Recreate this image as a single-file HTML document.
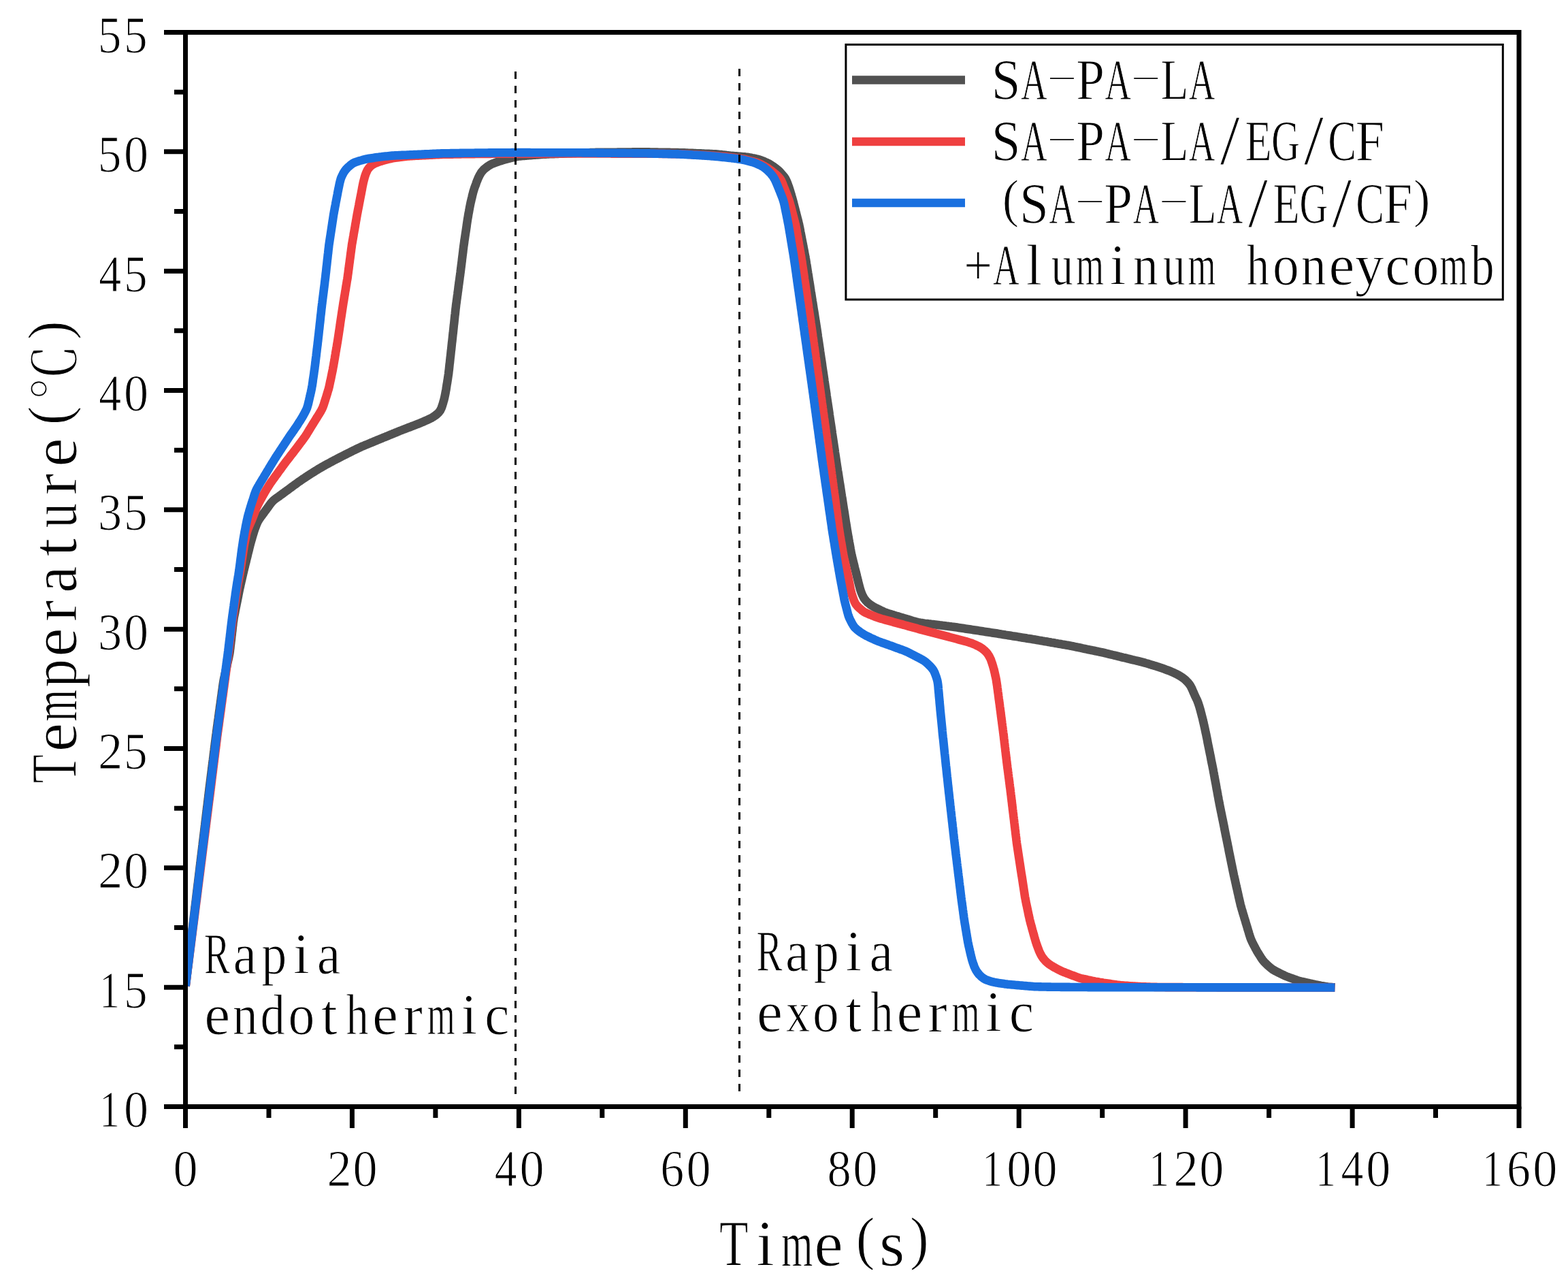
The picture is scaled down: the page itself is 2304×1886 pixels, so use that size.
<!DOCTYPE html>
<html><head><meta charset="utf-8"><title>Temperature vs Time</title>
<style>html,body{margin:0;padding:0;background:#fff;}svg{display:block;}</style>
</head><body>
<svg xmlns="http://www.w3.org/2000/svg" width="2304" height="1886" viewBox="0 0 2304 1886">
<defs><clipPath id="pc"><rect x="272" y="47.5" width="1960" height="1578"/></clipPath></defs>
<rect width="2304" height="1886" fill="#fff"/>
<g clip-path="url(#pc)" fill="none" stroke-width="12.6" stroke-linejoin="round" stroke-linecap="butt">
<path stroke="#515151" d="M272.7,1448.4 L272.8,1447.2 L273.0,1445.7 L273.2,1443.9 L273.5,1442.0 L273.7,1440.1 L273.9,1438.1 L274.2,1436.1 L274.4,1434.1 L274.6,1432.1 L274.9,1430.1 L275.1,1428.2 L275.4,1426.2 L275.6,1424.2 L275.8,1422.2 L276.1,1420.2 L276.3,1418.2 L276.6,1416.2 L276.8,1414.2 L277.0,1412.3 L277.3,1410.3 L277.5,1408.3 L277.7,1406.3 L278.0,1404.3 L278.2,1402.3 L278.5,1400.3 L278.7,1398.4 L278.9,1396.4 L279.2,1394.4 L279.4,1392.4 L279.7,1390.4 L279.9,1388.4 L280.1,1386.4 L280.4,1384.5 L280.6,1382.5 L280.8,1380.5 L281.1,1378.5 L281.3,1376.5 L281.6,1374.5 L281.8,1372.5 L282.0,1370.6 L282.3,1368.6 L282.5,1366.6 L282.7,1364.6 L283.0,1362.6 L283.2,1360.6 L283.5,1358.6 L283.7,1356.6 L283.9,1354.7 L284.2,1352.7 L284.4,1350.7 L284.7,1348.7 L284.9,1346.7 L285.1,1344.7 L285.4,1342.7 L285.6,1340.8 L285.8,1338.8 L286.1,1336.8 L286.3,1334.8 L286.6,1332.8 L286.8,1330.8 L287.0,1328.8 L287.3,1326.9 L287.5,1324.9 L287.8,1322.9 L288.0,1320.9 L288.2,1318.9 L288.5,1316.9 L288.7,1314.9 L288.9,1313.0 L289.2,1311.0 L289.4,1309.0 L289.7,1307.0 L289.9,1305.0 L290.1,1303.0 L290.4,1301.0 L290.6,1299.0 L290.9,1297.1 L291.1,1295.1 L291.3,1293.1 L291.6,1291.1 L291.8,1289.1 L292.1,1287.1 L292.3,1285.1 L292.5,1283.2 L292.8,1281.2 L293.0,1279.2 L293.3,1277.2 L293.5,1275.2 L293.7,1273.2 L294.0,1271.2 L294.2,1269.3 L294.5,1267.3 L294.7,1265.3 L294.9,1263.3 L295.2,1261.3 L295.4,1259.3 L295.7,1257.3 L295.9,1255.4 L296.1,1253.4 L296.4,1251.4 L296.6,1249.4 L296.9,1247.4 L297.1,1245.4 L297.3,1243.4 L297.6,1241.5 L297.8,1239.5 L298.0,1237.5 L298.3,1235.5 L298.5,1233.5 L298.8,1231.5 L299.0,1229.5 L299.2,1227.6 L299.5,1225.6 L299.7,1223.6 L300.0,1221.6 L300.2,1219.6 L300.4,1217.6 L300.7,1215.6 L300.9,1213.6 L301.2,1211.7 L301.4,1209.7 L301.6,1207.7 L301.9,1205.7 L302.1,1203.7 L302.4,1201.7 L302.6,1199.7 L302.8,1197.8 L303.1,1195.8 L303.3,1193.8 L303.6,1191.8 L303.8,1189.8 L304.0,1187.8 L304.3,1185.8 L304.5,1183.9 L304.8,1181.9 L305.0,1179.9 L305.2,1177.9 L305.5,1175.9 L305.7,1173.9 L306.0,1171.9 L306.2,1170.0 L306.4,1168.0 L306.7,1166.0 L306.9,1164.0 L307.2,1162.0 L307.4,1160.0 L307.6,1158.0 L307.9,1156.1 L308.1,1154.1 L308.4,1152.1 L308.6,1150.1 L308.9,1148.1 L309.1,1146.1 L309.4,1144.1 L309.6,1142.2 L309.9,1140.2 L310.1,1138.2 L310.4,1136.2 L310.6,1134.2 L310.9,1132.2 L311.1,1130.3 L311.4,1128.3 L311.6,1126.3 L311.9,1124.3 L312.1,1122.3 L312.4,1120.3 L312.6,1118.3 L312.9,1116.4 L313.1,1114.4 L313.4,1112.4 L313.6,1110.4 L313.8,1108.4 L314.1,1106.4 L314.3,1104.4 L314.6,1102.5 L314.8,1100.5 L315.1,1098.5 L315.3,1096.5 L315.6,1094.5 L315.8,1092.5 L316.1,1090.6 L316.3,1088.6 L316.6,1086.6 L316.8,1084.6 L317.1,1082.6 L317.3,1080.6 L317.6,1078.6 L317.9,1076.7 L318.1,1074.7 L318.4,1072.7 L318.7,1070.7 L318.9,1068.7 L319.2,1066.8 L319.5,1064.8 L319.8,1062.8 L320.0,1060.8 L320.3,1058.8 L320.6,1056.8 L320.9,1054.9 L321.1,1052.9 L321.4,1050.9 L321.7,1048.9 L321.9,1046.9 L322.2,1045.0 L322.5,1043.0 L322.8,1041.0 L323.0,1039.0 L323.3,1037.0 L323.6,1035.0 L323.9,1033.1 L324.1,1031.1 L324.4,1029.1 L324.7,1027.1 L324.9,1025.1 L325.2,1023.2 L325.5,1021.2 L325.8,1019.2 L326.0,1017.2 L326.3,1015.2 L326.6,1013.2 L326.9,1011.3 L327.1,1009.3 L327.4,1007.3 L327.7,1005.3 L328.0,1003.3 L328.3,1001.4 L328.6,999.4 L329.0,997.4 L329.4,995.5 L329.9,993.5 L330.3,991.6 L330.7,989.6 L331.2,987.7 L331.6,985.7 L332.1,983.8 L332.5,981.8 L332.9,979.9 L333.4,977.9 L333.8,976.0 L334.2,974.0 L334.7,972.1 L335.1,970.1 L335.6,968.2 L336.0,966.2 L336.4,964.2 L336.8,962.3 L337.2,960.3 L337.5,958.4 L337.8,956.4 L338.0,954.4 L338.3,952.4 L338.5,950.4 L338.7,948.4 L339.0,946.4 L339.2,944.5 L339.4,942.5 L339.7,940.5 L339.9,938.5 L340.1,936.5 L340.3,934.5 L340.6,932.5 L340.8,930.5 L341.0,928.6 L341.3,926.6 L341.5,924.6 L341.7,922.6 L341.9,920.6 L342.2,918.6 L342.4,916.6 L342.6,914.6 L342.9,912.7 L343.2,910.7 L343.5,908.7 L343.8,906.7 L344.2,904.8 L344.6,902.8 L345.0,900.9 L345.4,898.9 L345.7,896.9 L346.1,895.0 L346.5,893.0 L346.9,891.0 L347.3,889.1 L347.7,887.1 L348.1,885.2 L348.5,883.2 L348.9,881.2 L349.3,879.3 L349.7,877.3 L350.1,875.3 L350.4,873.4 L350.8,871.4 L351.2,869.5 L351.6,867.5 L352.0,865.5 L352.4,863.6 L352.9,861.6 L353.3,859.7 L353.7,857.7 L354.2,855.8 L354.6,853.8 L355.1,851.9 L355.5,849.9 L356.0,848.0 L356.4,846.0 L356.9,844.1 L357.3,842.1 L357.8,840.2 L358.2,838.2 L358.7,836.3 L359.2,834.3 L359.7,832.4 L360.1,830.5 L360.6,828.5 L361.1,826.6 L361.6,824.6 L362.0,822.7 L362.5,820.7 L363.0,818.8 L363.5,816.9 L363.9,814.9 L364.4,813.0 L364.9,811.0 L365.4,809.1 L365.9,807.1 L366.3,805.2 L366.8,803.3 L367.3,801.3 L367.8,799.4 L368.3,797.5 L368.9,795.5 L369.4,793.6 L370.0,791.7 L370.5,789.8 L371.1,787.8 L371.6,785.9 L372.2,784.0 L372.8,782.1 L373.4,780.2 L374.0,778.3 L374.7,776.4 L375.4,774.5 L376.1,772.7 L376.8,770.8 L377.6,769.0 L378.4,767.1 L379.3,765.4 L380.3,763.7 L381.4,762.0 L382.5,760.4 L383.7,758.7 L384.9,757.1 L386.1,755.5 L387.3,753.9 L388.5,752.3 L389.6,750.7 L390.8,749.1 L392.0,747.5 L393.2,745.9 L394.4,744.3 L395.5,742.6 L396.7,741.0 L397.9,739.4 L399.2,737.9 L400.5,736.4 L401.9,735.0 L403.4,733.7 L405.0,732.5 L406.6,731.4 L408.2,730.2 L409.9,729.1 L411.5,727.9 L413.1,726.8 L414.7,725.6 L416.3,724.4 L417.9,723.2 L419.6,722.0 L421.2,720.8 L422.8,719.7 L424.4,718.5 L426.0,717.3 L427.6,716.1 L429.2,714.9 L430.8,713.7 L432.4,712.5 L434.1,711.4 L435.7,710.2 L437.3,709.0 L438.9,707.8 L440.6,706.7 L442.2,705.6 L443.9,704.4 L445.5,703.3 L447.2,702.2 L448.8,701.1 L450.5,700.0 L452.2,698.9 L453.9,697.8 L455.5,696.7 L457.2,695.6 L458.9,694.6 L460.6,693.5 L462.3,692.5 L464.0,691.4 L465.7,690.4 L467.4,689.3 L469.1,688.3 L470.9,687.3 L472.6,686.3 L474.3,685.3 L476.1,684.3 L477.8,683.3 L479.6,682.3 L481.3,681.4 L483.1,680.4 L484.8,679.5 L486.6,678.5 L488.4,677.6 L490.1,676.6 L491.9,675.7 L493.7,674.8 L495.4,673.9 L497.2,673.0 L499.0,672.0 L500.8,671.1 L502.6,670.2 L504.3,669.3 L506.1,668.4 L507.9,667.5 L509.7,666.6 L511.5,665.7 L513.3,664.8 L515.1,663.9 L516.9,663.0 L518.6,662.1 L520.4,661.3 L522.2,660.4 L524.0,659.5 L525.8,658.6 L527.7,657.8 L529.5,656.9 L531.3,656.1 L533.1,655.3 L535.0,654.6 L536.8,653.8 L538.7,653.0 L540.5,652.3 L542.4,651.5 L544.2,650.7 L546.1,650.0 L547.9,649.2 L549.8,648.4 L551.6,647.7 L553.5,646.9 L555.3,646.1 L557.2,645.4 L559.0,644.6 L560.9,643.9 L562.7,643.1 L564.6,642.3 L566.4,641.6 L568.3,640.8 L570.1,640.1 L572.0,639.3 L573.8,638.5 L575.7,637.8 L577.5,637.0 L579.4,636.3 L581.2,635.5 L583.1,634.8 L584.9,634.0 L586.8,633.2 L588.6,632.5 L590.5,631.8 L592.4,631.0 L594.2,630.3 L596.1,629.6 L598.0,628.9 L599.8,628.2 L601.7,627.5 L603.6,626.8 L605.4,626.0 L607.3,625.3 L609.2,624.6 L611.0,623.9 L612.9,623.2 L614.8,622.5 L616.6,621.7 L618.5,620.9 L620.3,620.2 L622.2,619.4 L624.0,618.6 L625.8,617.7 L627.6,616.9 L629.5,616.1 L631.3,615.2 L633.0,614.4 L634.8,613.4 L636.5,612.4 L638.2,611.3 L639.8,610.1 L641.4,608.9 L642.9,607.6 L644.3,606.2 L645.5,604.8 L646.7,603.2 L647.6,601.5 L648.5,599.7 L649.2,597.9 L649.8,596.0 L650.4,594.1 L651.0,592.2 L651.5,590.2 L652.1,588.3 L652.6,586.4 L653.1,584.4 L653.5,582.5 L653.9,580.5 L654.3,578.6 L654.7,576.6 L655.0,574.6 L655.4,572.7 L655.7,570.7 L656.0,568.7 L656.3,566.7 L656.6,564.8 L657.0,562.8 L657.3,560.8 L657.6,558.8 L657.9,556.9 L658.2,554.9 L658.5,552.9 L658.8,550.9 L659.1,549.0 L659.3,547.0 L659.5,545.0 L659.8,543.0 L660.0,541.0 L660.2,539.0 L660.4,537.0 L660.6,535.0 L660.9,533.1 L661.1,531.1 L661.3,529.1 L661.5,527.1 L661.7,525.1 L662.0,523.1 L662.2,521.1 L662.4,519.1 L662.6,517.1 L662.8,515.2 L663.1,513.2 L663.3,511.2 L663.5,509.2 L663.7,507.2 L663.9,505.2 L664.1,503.2 L664.4,501.2 L664.6,499.2 L664.8,497.3 L665.0,495.3 L665.2,493.3 L665.4,491.3 L665.7,489.3 L665.9,487.3 L666.1,485.3 L666.3,483.3 L666.5,481.3 L666.7,479.4 L666.9,477.4 L667.2,475.4 L667.4,473.4 L667.6,471.4 L667.8,469.4 L668.0,467.4 L668.2,465.4 L668.4,463.4 L668.7,461.5 L668.9,459.5 L669.1,457.5 L669.3,455.5 L669.5,453.5 L669.8,451.5 L670.0,449.5 L670.2,447.5 L670.5,445.6 L670.8,443.6 L671.0,441.6 L671.3,439.6 L671.6,437.6 L671.8,435.6 L672.1,433.7 L672.4,431.7 L672.6,429.7 L672.9,427.7 L673.2,425.7 L673.4,423.8 L673.7,421.8 L673.9,419.8 L674.2,417.8 L674.5,415.8 L674.7,413.8 L675.0,411.9 L675.3,409.9 L675.5,407.9 L675.8,405.9 L676.1,403.9 L676.3,401.9 L676.6,400.0 L676.8,398.0 L677.1,396.0 L677.3,394.0 L677.6,392.0 L677.8,390.0 L678.1,388.0 L678.3,386.1 L678.6,384.1 L678.8,382.1 L679.0,380.1 L679.3,378.1 L679.5,376.1 L679.8,374.1 L680.0,372.2 L680.3,370.2 L680.5,368.2 L680.7,366.2 L681.0,364.2 L681.2,362.2 L681.5,360.3 L681.8,358.3 L682.1,356.3 L682.3,354.3 L682.6,352.3 L682.9,350.4 L683.2,348.4 L683.5,346.4 L683.8,344.4 L684.1,342.4 L684.4,340.5 L684.7,338.5 L685.0,336.5 L685.3,334.5 L685.6,332.5 L685.8,330.6 L686.1,328.6 L686.4,326.6 L686.7,324.6 L687.0,322.6 L687.3,320.7 L687.7,318.7 L688.0,316.7 L688.3,314.8 L688.7,312.8 L689.1,310.8 L689.4,308.8 L689.8,306.9 L690.1,304.9 L690.5,302.9 L690.9,301.0 L691.3,299.0 L691.7,297.1 L692.2,295.1 L692.6,293.2 L693.1,291.2 L693.6,289.3 L694.0,287.3 L694.5,285.4 L695.0,283.5 L695.5,281.5 L696.1,279.6 L696.7,277.7 L697.3,275.8 L698.0,273.9 L698.7,272.1 L699.4,270.2 L700.0,268.3 L700.7,266.4 L701.5,264.6 L702.2,262.7 L703.0,260.9 L703.9,259.1 L704.8,257.3 L705.8,255.6 L706.8,253.9 L707.9,252.3 L709.2,250.8 L710.5,249.3 L712.0,248.0 L713.5,246.8 L715.1,245.6 L716.7,244.4 L718.4,243.3 L720.1,242.3 L721.8,241.3 L723.6,240.5 L725.5,239.8 L727.3,239.1 L729.2,238.4 L731.1,237.8 L733.0,237.1 L734.9,236.5 L736.8,235.9 L738.7,235.3 L740.6,234.7 L742.6,234.2 L744.5,233.7 L746.4,233.2 L748.4,232.7 L750.3,232.1 L752.2,231.6 L754.2,231.2 L756.1,230.7 L758.1,230.3 L760.0,229.9 L762.0,229.6 L764.0,229.4 L766.0,229.2 L767.9,229.0 L769.9,228.9 L771.9,228.7 L773.9,228.6 L775.9,228.4 L777.9,228.3 L779.9,228.1 L781.9,228.0 L783.9,227.8 L785.9,227.7 L787.9,227.5 L789.9,227.4 L791.9,227.2 L793.9,227.1 L795.9,226.9 L797.9,226.8 L799.9,226.7 L801.9,226.6 L803.9,226.5 L805.9,226.4 L807.9,226.3 L809.9,226.2 L811.9,226.2 L813.9,226.1 L815.9,226.0 L817.9,225.9 L819.9,225.9 L821.8,225.8 L823.8,225.7 L825.8,225.6 L827.8,225.6 L829.8,225.5 L831.8,225.4 L833.8,225.3 L835.8,225.3 L837.8,225.2 L839.8,225.1 L841.8,225.0 L843.8,225.0 L845.8,224.9 L847.8,224.8 L849.8,224.7 L851.8,224.7 L853.8,224.6 L855.8,224.5 L857.8,224.5 L859.8,224.4 L861.8,224.3 L863.8,224.2 L865.8,224.2 L867.8,224.1 L869.8,224.0 L871.8,224.0 L873.8,224.0 L875.8,223.9 L877.8,223.9 L879.8,223.9 L881.8,223.9 L883.8,223.9 L885.8,223.9 L887.8,223.8 L889.8,223.8 L891.8,223.8 L893.8,223.8 L895.8,223.8 L897.8,223.7 L899.8,223.7 L901.8,223.7 L903.8,223.7 L905.8,223.7 L907.8,223.6 L909.8,223.6 L911.8,223.6 L913.8,223.6 L915.8,223.6 L917.8,223.6 L919.8,223.5 L921.8,223.5 L923.8,223.5 L925.8,223.5 L927.8,223.5 L929.8,223.4 L931.8,223.4 L933.8,223.4 L935.8,223.4 L937.8,223.4 L939.8,223.4 L941.8,223.3 L943.8,223.3 L945.8,223.3 L947.8,223.4 L949.8,223.4 L951.8,223.4 L953.8,223.4 L955.8,223.5 L957.8,223.5 L959.8,223.5 L961.8,223.6 L963.8,223.6 L965.8,223.6 L967.8,223.7 L969.8,223.7 L971.8,223.7 L973.8,223.8 L975.8,223.8 L977.8,223.8 L979.8,223.9 L981.8,223.9 L983.8,223.9 L985.8,224.0 L987.8,224.0 L989.8,224.0 L991.8,224.1 L993.8,224.1 L995.8,224.1 L997.8,224.2 L999.8,224.2 L1001.8,224.3 L1003.8,224.4 L1005.8,224.4 L1007.8,224.5 L1009.8,224.6 L1011.8,224.7 L1013.8,224.8 L1015.8,224.9 L1017.8,224.9 L1019.8,225.0 L1021.8,225.1 L1023.8,225.2 L1025.8,225.3 L1027.8,225.4 L1029.8,225.4 L1031.8,225.5 L1033.8,225.6 L1035.8,225.7 L1037.8,225.8 L1039.8,225.9 L1041.8,225.9 L1043.8,226.0 L1045.8,226.1 L1047.8,226.2 L1049.8,226.3 L1051.8,226.4 L1053.8,226.5 L1055.8,226.7 L1057.8,226.9 L1059.8,227.1 L1061.8,227.4 L1063.7,227.6 L1065.7,227.8 L1067.7,228.1 L1069.7,228.3 L1071.7,228.5 L1073.7,228.7 L1075.7,228.9 L1077.7,229.0 L1079.7,229.2 L1081.7,229.3 L1083.7,229.5 L1085.6,229.7 L1087.6,229.8 L1089.6,230.0 L1091.6,230.2 L1093.6,230.3 L1095.6,230.6 L1097.6,230.8 L1099.6,231.1 L1101.5,231.4 L1103.5,231.8 L1105.5,232.2 L1107.4,232.5 L1109.4,232.9 L1111.3,233.4 L1113.3,233.8 L1115.2,234.3 L1117.1,234.9 L1119.0,235.6 L1120.8,236.3 L1122.7,237.1 L1124.5,237.9 L1126.3,238.7 L1128.1,239.6 L1129.9,240.5 L1131.6,241.5 L1133.3,242.6 L1135.0,243.7 L1136.6,244.8 L1138.2,245.9 L1139.9,247.1 L1141.4,248.3 L1143.0,249.6 L1144.4,250.9 L1145.9,252.3 L1147.2,253.8 L1148.5,255.3 L1149.8,256.8 L1151.1,258.3 L1152.3,259.9 L1153.5,261.5 L1154.5,263.2 L1155.4,265.0 L1156.2,266.8 L1156.9,268.6 L1157.6,270.5 L1158.3,272.4 L1159.0,274.2 L1159.6,276.1 L1160.2,278.0 L1160.8,279.9 L1161.4,281.9 L1162.0,283.8 L1162.6,285.7 L1163.1,287.6 L1163.7,289.5 L1164.2,291.5 L1164.8,293.4 L1165.3,295.3 L1165.8,297.2 L1166.3,299.2 L1166.8,301.1 L1167.3,303.0 L1167.8,305.0 L1168.3,306.9 L1168.8,308.9 L1169.3,310.8 L1169.8,312.7 L1170.3,314.7 L1170.8,316.6 L1171.3,318.6 L1171.8,320.5 L1172.3,322.4 L1172.8,324.4 L1173.2,326.3 L1173.7,328.3 L1174.2,330.2 L1174.6,332.2 L1175.0,334.1 L1175.4,336.1 L1175.8,338.0 L1176.1,340.0 L1176.5,342.0 L1176.9,343.9 L1177.3,345.9 L1177.7,347.9 L1178.0,349.8 L1178.4,351.8 L1178.8,353.8 L1179.2,355.7 L1179.6,357.7 L1180.0,359.6 L1180.3,361.6 L1180.7,363.6 L1181.1,365.5 L1181.5,367.5 L1181.9,369.5 L1182.2,371.4 L1182.6,373.4 L1183.0,375.4 L1183.4,377.3 L1183.7,379.3 L1184.1,381.3 L1184.4,383.2 L1184.7,385.2 L1185.0,387.2 L1185.4,389.2 L1185.7,391.1 L1186.0,393.1 L1186.3,395.1 L1186.6,397.1 L1186.9,399.0 L1187.2,401.0 L1187.6,403.0 L1187.9,405.0 L1188.2,406.9 L1188.5,408.9 L1188.8,410.9 L1189.1,412.9 L1189.4,414.8 L1189.8,416.8 L1190.1,418.8 L1190.4,420.8 L1190.7,422.7 L1191.0,424.7 L1191.3,426.7 L1191.6,428.7 L1192.0,430.6 L1192.3,432.6 L1192.6,434.6 L1192.9,436.6 L1193.2,438.5 L1193.5,440.5 L1193.8,442.5 L1194.2,444.5 L1194.5,446.5 L1194.8,448.4 L1195.1,450.4 L1195.4,452.4 L1195.7,454.4 L1196.0,456.3 L1196.4,458.3 L1196.7,460.3 L1197.0,462.3 L1197.3,464.2 L1197.6,466.2 L1197.9,468.2 L1198.2,470.2 L1198.5,472.1 L1198.9,474.1 L1199.2,476.1 L1199.5,478.1 L1199.8,480.0 L1200.1,482.0 L1200.4,484.0 L1200.7,486.0 L1201.0,488.0 L1201.3,489.9 L1201.6,491.9 L1201.8,493.9 L1202.1,495.9 L1202.4,497.8 L1202.7,499.8 L1203.0,501.8 L1203.3,503.8 L1203.6,505.8 L1203.9,507.7 L1204.2,509.7 L1204.5,511.7 L1204.8,513.7 L1205.0,515.7 L1205.3,517.6 L1205.6,519.6 L1205.9,521.6 L1206.2,523.6 L1206.5,525.6 L1206.8,527.5 L1207.1,529.5 L1207.4,531.5 L1207.7,533.5 L1208.0,535.5 L1208.2,537.4 L1208.5,539.4 L1208.8,541.4 L1209.1,543.4 L1209.4,545.3 L1209.7,547.3 L1210.0,549.3 L1210.3,551.3 L1210.6,553.3 L1210.9,555.2 L1211.2,557.2 L1211.4,559.2 L1211.7,561.2 L1212.0,563.2 L1212.3,565.1 L1212.6,567.1 L1212.9,569.1 L1213.2,571.1 L1213.5,573.1 L1213.8,575.0 L1214.1,577.0 L1214.4,579.0 L1214.6,581.0 L1214.9,583.0 L1215.2,584.9 L1215.5,586.9 L1215.8,588.9 L1216.1,590.9 L1216.4,592.8 L1216.7,594.8 L1217.0,596.8 L1217.3,598.8 L1217.6,600.8 L1217.9,602.7 L1218.2,604.7 L1218.5,606.7 L1218.7,608.7 L1219.0,610.7 L1219.3,612.6 L1219.6,614.6 L1219.9,616.6 L1220.2,618.6 L1220.5,620.6 L1220.8,622.5 L1221.1,624.5 L1221.4,626.5 L1221.7,628.5 L1222.0,630.4 L1222.3,632.4 L1222.6,634.4 L1222.8,636.4 L1223.1,638.4 L1223.4,640.3 L1223.7,642.3 L1224.0,644.3 L1224.3,646.3 L1224.6,648.3 L1224.9,650.2 L1225.2,652.2 L1225.5,654.2 L1225.8,656.2 L1226.1,658.2 L1226.4,660.1 L1226.7,662.1 L1226.9,664.1 L1227.2,666.1 L1227.5,668.0 L1227.8,670.0 L1228.1,672.0 L1228.4,674.0 L1228.7,676.0 L1229.0,677.9 L1229.3,679.9 L1229.6,681.9 L1229.9,683.9 L1230.2,685.8 L1230.5,687.8 L1230.8,689.8 L1231.1,691.8 L1231.5,693.8 L1231.8,695.7 L1232.1,697.7 L1232.4,699.7 L1232.7,701.7 L1233.0,703.6 L1233.3,705.6 L1233.6,707.6 L1233.9,709.6 L1234.3,711.5 L1234.6,713.5 L1234.9,715.5 L1235.2,717.5 L1235.5,719.4 L1235.8,721.4 L1236.1,723.4 L1236.4,725.4 L1236.7,727.3 L1237.0,729.3 L1237.4,731.3 L1237.7,733.3 L1238.0,735.3 L1238.3,737.2 L1238.6,739.2 L1238.9,741.2 L1239.2,743.2 L1239.5,745.1 L1239.8,747.1 L1240.1,749.1 L1240.5,751.1 L1240.8,753.0 L1241.1,755.0 L1241.4,757.0 L1241.7,759.0 L1242.0,760.9 L1242.3,762.9 L1242.6,764.9 L1242.9,766.9 L1243.2,768.8 L1243.6,770.8 L1243.9,772.8 L1244.2,774.8 L1244.5,776.8 L1244.8,778.7 L1245.2,780.7 L1245.5,782.7 L1245.8,784.6 L1246.2,786.6 L1246.5,788.6 L1246.9,790.6 L1247.2,792.5 L1247.6,794.5 L1247.9,796.5 L1248.3,798.4 L1248.7,800.4 L1249.0,802.4 L1249.4,804.3 L1249.7,806.3 L1250.1,808.3 L1250.4,810.2 L1250.8,812.2 L1251.2,814.2 L1251.6,816.1 L1252.1,818.1 L1252.6,820.0 L1253.0,821.9 L1253.5,823.9 L1254.0,825.8 L1254.5,827.8 L1255.0,829.7 L1255.5,831.7 L1255.9,833.6 L1256.4,835.5 L1256.9,837.5 L1257.4,839.4 L1257.9,841.4 L1258.4,843.3 L1258.8,845.2 L1259.3,847.2 L1259.8,849.1 L1260.3,851.1 L1260.7,853.0 L1261.2,855.0 L1261.7,856.9 L1262.2,858.8 L1262.7,860.8 L1263.2,862.7 L1263.7,864.6 L1264.3,866.5 L1264.9,868.4 L1265.6,870.3 L1266.4,872.2 L1267.1,874.0 L1268.0,875.8 L1268.9,877.5 L1269.9,879.2 L1271.1,880.8 L1272.3,882.3 L1273.7,883.8 L1275.1,885.2 L1276.6,886.4 L1278.2,887.7 L1279.8,888.8 L1281.5,889.9 L1283.2,890.9 L1285.0,891.9 L1286.7,892.8 L1288.5,893.7 L1290.3,894.6 L1292.1,895.5 L1293.9,896.4 L1295.7,897.3 L1297.5,898.1 L1299.3,898.9 L1301.2,899.7 L1303.0,900.3 L1304.9,901.0 L1306.8,901.6 L1308.7,902.1 L1310.7,902.7 L1312.6,903.3 L1314.5,903.9 L1316.4,904.5 L1318.3,905.0 L1320.2,905.6 L1322.1,906.2 L1324.1,906.8 L1326.0,907.3 L1327.9,907.9 L1329.8,908.5 L1331.7,909.1 L1333.6,909.7 L1335.6,910.2 L1337.5,910.8 L1339.4,911.4 L1341.3,912.0 L1343.2,912.5 L1345.1,913.1 L1347.1,913.6 L1349.0,914.1 L1350.9,914.5 L1352.9,914.9 L1354.9,915.1 L1356.9,915.4 L1358.9,915.7 L1360.8,915.9 L1362.8,916.1 L1364.8,916.4 L1366.8,916.6 L1368.8,916.9 L1370.8,917.1 L1372.8,917.3 L1374.7,917.6 L1376.7,917.8 L1378.7,918.0 L1380.7,918.3 L1382.7,918.5 L1384.7,918.8 L1386.7,919.0 L1388.6,919.2 L1390.6,919.5 L1392.6,919.7 L1394.6,920.0 L1396.6,920.2 L1398.6,920.5 L1400.6,920.7 L1402.5,921.0 L1404.5,921.3 L1406.5,921.6 L1408.5,921.9 L1410.4,922.2 L1412.4,922.5 L1414.4,922.8 L1416.4,923.1 L1418.4,923.4 L1420.3,923.7 L1422.3,924.0 L1424.3,924.3 L1426.3,924.6 L1428.2,924.9 L1430.2,925.2 L1432.2,925.5 L1434.2,925.8 L1436.2,926.1 L1438.1,926.4 L1440.1,926.7 L1442.1,927.0 L1444.1,927.3 L1446.0,927.6 L1448.0,927.9 L1450.0,928.2 L1452.0,928.5 L1454.0,928.8 L1455.9,929.1 L1457.9,929.4 L1459.9,929.7 L1461.9,930.0 L1463.8,930.3 L1465.8,930.6 L1467.8,931.0 L1469.8,931.3 L1471.7,931.6 L1473.7,931.9 L1475.7,932.2 L1477.7,932.6 L1479.6,932.9 L1481.6,933.2 L1483.6,933.5 L1485.6,933.8 L1487.5,934.2 L1489.5,934.5 L1491.5,934.8 L1493.5,935.1 L1495.4,935.4 L1497.4,935.7 L1499.4,936.1 L1501.4,936.4 L1503.3,936.7 L1505.3,937.0 L1507.3,937.3 L1509.3,937.7 L1511.2,938.0 L1513.2,938.3 L1515.2,938.6 L1517.2,938.9 L1519.1,939.3 L1521.1,939.6 L1523.1,939.9 L1525.1,940.3 L1527.0,940.6 L1529.0,940.9 L1531.0,941.3 L1532.9,941.6 L1534.9,942.0 L1536.9,942.3 L1538.9,942.6 L1540.8,943.0 L1542.8,943.3 L1544.8,943.7 L1546.7,944.0 L1548.7,944.3 L1550.7,944.7 L1552.7,945.0 L1554.6,945.4 L1556.6,945.7 L1558.6,946.0 L1560.5,946.4 L1562.5,946.7 L1564.5,947.1 L1566.5,947.4 L1568.4,947.8 L1570.4,948.1 L1572.4,948.5 L1574.3,948.9 L1576.3,949.3 L1578.2,949.7 L1580.2,950.1 L1582.1,950.5 L1584.1,950.9 L1586.1,951.3 L1588.0,951.7 L1590.0,952.2 L1591.9,952.6 L1593.9,953.0 L1595.9,953.4 L1597.8,953.8 L1599.8,954.2 L1601.7,954.6 L1603.7,955.0 L1605.6,955.4 L1607.6,955.8 L1609.6,956.2 L1611.5,956.6 L1613.5,957.0 L1615.4,957.5 L1617.4,957.9 L1619.4,958.3 L1621.3,958.7 L1623.2,959.2 L1625.2,959.7 L1627.1,960.1 L1629.1,960.6 L1631.0,961.1 L1633.0,961.5 L1634.9,962.0 L1636.9,962.5 L1638.8,962.9 L1640.8,963.4 L1642.7,963.9 L1644.6,964.4 L1646.6,964.8 L1648.5,965.3 L1650.5,965.8 L1652.4,966.2 L1654.4,966.7 L1656.3,967.2 L1658.3,967.6 L1660.2,968.1 L1662.1,968.6 L1664.1,969.1 L1666.0,969.5 L1668.0,970.0 L1669.9,970.5 L1671.9,970.9 L1673.8,971.4 L1675.7,971.9 L1677.7,972.4 L1679.6,972.9 L1681.5,973.4 L1683.5,974.0 L1685.4,974.5 L1687.3,975.1 L1689.2,975.7 L1691.1,976.3 L1693.0,976.9 L1695.0,977.4 L1696.9,978.0 L1698.8,978.6 L1700.7,979.2 L1702.6,979.8 L1704.5,980.4 L1706.4,981.1 L1708.3,981.7 L1710.2,982.4 L1712.0,983.1 L1713.9,983.8 L1715.8,984.5 L1717.7,985.2 L1719.5,985.9 L1721.4,986.7 L1723.2,987.5 L1725.0,988.3 L1726.8,989.2 L1728.6,990.0 L1730.4,991.0 L1732.1,991.9 L1733.9,992.9 L1735.5,994.0 L1737.2,995.1 L1738.8,996.3 L1740.4,997.5 L1741.9,998.8 L1743.3,1000.2 L1744.7,1001.6 L1746.1,1003.1 L1747.3,1004.6 L1748.5,1006.2 L1749.5,1007.9 L1750.4,1009.6 L1751.3,1011.4 L1752.1,1013.2 L1752.9,1015.1 L1753.7,1016.9 L1754.5,1018.7 L1755.3,1020.6 L1756.1,1022.4 L1757.0,1024.2 L1757.8,1026.0 L1758.7,1027.8 L1759.5,1029.6 L1760.2,1031.5 L1760.9,1033.4 L1761.5,1035.3 L1762.1,1037.2 L1762.7,1039.1 L1763.2,1041.0 L1763.8,1042.9 L1764.3,1044.9 L1764.8,1046.8 L1765.3,1048.7 L1765.8,1050.7 L1766.3,1052.6 L1766.8,1054.5 L1767.3,1056.5 L1767.7,1058.4 L1768.2,1060.4 L1768.6,1062.3 L1769.1,1064.3 L1769.5,1066.2 L1770.0,1068.2 L1770.4,1070.1 L1770.8,1072.1 L1771.2,1074.1 L1771.6,1076.0 L1772.1,1078.0 L1772.5,1079.9 L1772.9,1081.9 L1773.3,1083.8 L1773.7,1085.8 L1774.1,1087.8 L1774.4,1089.7 L1774.8,1091.7 L1775.2,1093.7 L1775.6,1095.6 L1776.0,1097.6 L1776.4,1099.5 L1776.8,1101.5 L1777.2,1103.5 L1777.6,1105.4 L1778.0,1107.4 L1778.4,1109.3 L1778.8,1111.3 L1779.2,1113.3 L1779.5,1115.2 L1779.9,1117.2 L1780.3,1119.2 L1780.7,1121.1 L1781.1,1123.1 L1781.5,1125.0 L1781.9,1127.0 L1782.3,1129.0 L1782.7,1130.9 L1783.0,1132.9 L1783.4,1134.9 L1783.8,1136.8 L1784.1,1138.8 L1784.5,1140.8 L1784.8,1142.7 L1785.2,1144.7 L1785.6,1146.7 L1785.9,1148.6 L1786.3,1150.6 L1786.7,1152.6 L1787.0,1154.5 L1787.4,1156.5 L1787.7,1158.5 L1788.1,1160.4 L1788.5,1162.4 L1788.8,1164.4 L1789.2,1166.3 L1789.5,1168.3 L1789.9,1170.3 L1790.3,1172.2 L1790.6,1174.2 L1791.0,1176.2 L1791.4,1178.1 L1791.7,1180.1 L1792.1,1182.1 L1792.5,1184.0 L1792.9,1186.0 L1793.3,1188.0 L1793.7,1189.9 L1794.1,1191.9 L1794.5,1193.8 L1794.9,1195.8 L1795.3,1197.8 L1795.7,1199.7 L1796.1,1201.7 L1796.5,1203.6 L1796.9,1205.6 L1797.3,1207.6 L1797.7,1209.5 L1798.1,1211.5 L1798.5,1213.4 L1798.9,1215.4 L1799.2,1217.4 L1799.6,1219.3 L1800.0,1221.3 L1800.4,1223.2 L1800.8,1225.2 L1801.2,1227.2 L1801.6,1229.1 L1802.0,1231.1 L1802.4,1233.1 L1802.8,1235.0 L1803.2,1237.0 L1803.6,1238.9 L1804.0,1240.9 L1804.4,1242.9 L1804.8,1244.8 L1805.2,1246.8 L1805.5,1248.7 L1805.9,1250.7 L1806.3,1252.7 L1806.7,1254.6 L1807.1,1256.6 L1807.5,1258.6 L1807.9,1260.5 L1808.3,1262.5 L1808.7,1264.4 L1809.1,1266.4 L1809.5,1268.4 L1809.9,1270.3 L1810.3,1272.3 L1810.7,1274.2 L1811.1,1276.2 L1811.5,1278.2 L1811.9,1280.1 L1812.3,1282.1 L1812.7,1284.0 L1813.1,1286.0 L1813.6,1287.9 L1814.0,1289.9 L1814.5,1291.8 L1814.9,1293.8 L1815.3,1295.7 L1815.8,1297.7 L1816.2,1299.7 L1816.6,1301.6 L1817.1,1303.6 L1817.5,1305.5 L1818.0,1307.5 L1818.4,1309.4 L1818.8,1311.4 L1819.3,1313.3 L1819.7,1315.3 L1820.1,1317.2 L1820.6,1319.2 L1821.0,1321.1 L1821.5,1323.1 L1821.9,1325.0 L1822.4,1327.0 L1822.8,1328.9 L1823.3,1330.8 L1823.9,1332.8 L1824.4,1334.7 L1825.0,1336.6 L1825.6,1338.5 L1826.1,1340.5 L1826.7,1342.4 L1827.3,1344.3 L1827.9,1346.2 L1828.4,1348.1 L1829.0,1350.0 L1829.6,1351.9 L1830.2,1353.9 L1830.7,1355.8 L1831.3,1357.7 L1831.9,1359.6 L1832.5,1361.5 L1833.0,1363.4 L1833.6,1365.4 L1834.2,1367.3 L1834.8,1369.2 L1835.3,1371.1 L1835.9,1373.0 L1836.5,1374.9 L1837.1,1376.8 L1837.8,1378.7 L1838.5,1380.5 L1839.4,1382.4 L1840.2,1384.2 L1841.1,1386.0 L1842.0,1387.7 L1842.9,1389.5 L1843.9,1391.3 L1844.8,1393.1 L1845.8,1394.8 L1846.7,1396.6 L1847.7,1398.3 L1848.8,1400.0 L1849.8,1401.7 L1850.9,1403.4 L1852.0,1405.1 L1853.0,1406.8 L1854.1,1408.4 L1855.3,1410.1 L1856.5,1411.6 L1857.8,1413.1 L1859.2,1414.5 L1860.6,1415.9 L1862.1,1417.3 L1863.5,1418.6 L1865.0,1420.0 L1866.6,1421.2 L1868.1,1422.5 L1869.7,1423.7 L1871.4,1424.7 L1873.1,1425.7 L1874.8,1426.7 L1876.6,1427.6 L1878.4,1428.5 L1880.2,1429.4 L1882.0,1430.3 L1883.8,1431.2 L1885.6,1432.0 L1887.4,1432.9 L1889.2,1433.7 L1891.1,1434.5 L1892.9,1435.2 L1894.8,1435.9 L1896.7,1436.6 L1898.6,1437.2 L1900.4,1437.9 L1902.3,1438.6 L1904.2,1439.2 L1906.1,1439.9 L1908.0,1440.5 L1909.9,1441.0 L1911.9,1441.5 L1913.8,1442.0 L1915.8,1442.4 L1917.7,1442.9 L1919.7,1443.3 L1921.6,1443.8 L1923.6,1444.2 L1925.5,1444.6 L1927.5,1445.0 L1929.4,1445.5 L1931.4,1445.9 L1933.3,1446.3 L1935.3,1446.7 L1937.3,1447.1 L1939.2,1447.5 L1941.2,1447.9 L1943.2,1448.2 L1945.1,1448.6 L1947.1,1448.9 L1949.1,1449.2 L1951.0,1449.5 L1953.0,1449.7 L1955.0,1449.9 L1956.9,1450.0 L1958.7,1450.2 L1960.2,1450.3 L1961.4,1450.4"/>
<path stroke="#EF4040" d="M272.7,1448.4 L272.9,1447.2 L273.0,1445.7 L273.3,1443.9 L273.5,1442.0 L273.8,1440.1 L274.0,1438.1 L274.3,1436.1 L274.5,1434.1 L274.8,1432.1 L275.0,1430.2 L275.3,1428.2 L275.5,1426.2 L275.8,1424.2 L276.0,1422.2 L276.3,1420.2 L276.6,1418.3 L276.8,1416.3 L277.1,1414.3 L277.3,1412.3 L277.6,1410.3 L277.8,1408.3 L278.1,1406.3 L278.3,1404.4 L278.6,1402.4 L278.8,1400.4 L279.1,1398.4 L279.3,1396.4 L279.6,1394.4 L279.8,1392.5 L280.1,1390.5 L280.3,1388.5 L280.6,1386.5 L280.9,1384.5 L281.1,1382.5 L281.4,1380.6 L281.6,1378.6 L281.9,1376.6 L282.1,1374.6 L282.4,1372.6 L282.6,1370.6 L282.9,1368.6 L283.1,1366.7 L283.4,1364.7 L283.6,1362.7 L283.9,1360.7 L284.1,1358.7 L284.4,1356.7 L284.7,1354.8 L284.9,1352.8 L285.2,1350.8 L285.4,1348.8 L285.7,1346.8 L285.9,1344.8 L286.2,1342.9 L286.4,1340.9 L286.7,1338.9 L286.9,1336.9 L287.2,1334.9 L287.4,1332.9 L287.7,1330.9 L287.9,1329.0 L288.2,1327.0 L288.4,1325.0 L288.7,1323.0 L289.0,1321.0 L289.2,1319.0 L289.5,1317.1 L289.7,1315.1 L290.0,1313.1 L290.2,1311.1 L290.5,1309.1 L290.7,1307.1 L291.0,1305.2 L291.2,1303.2 L291.5,1301.2 L291.7,1299.2 L292.0,1297.2 L292.2,1295.2 L292.5,1293.2 L292.7,1291.3 L293.0,1289.3 L293.2,1287.3 L293.5,1285.3 L293.8,1283.3 L294.0,1281.3 L294.3,1279.4 L294.5,1277.4 L294.8,1275.4 L295.0,1273.4 L295.3,1271.4 L295.5,1269.4 L295.8,1267.4 L296.0,1265.5 L296.3,1263.5 L296.5,1261.5 L296.8,1259.5 L297.0,1257.5 L297.3,1255.5 L297.5,1253.6 L297.8,1251.6 L298.0,1249.6 L298.3,1247.6 L298.5,1245.6 L298.8,1243.6 L299.0,1241.7 L299.3,1239.7 L299.5,1237.7 L299.8,1235.7 L300.0,1233.7 L300.3,1231.7 L300.5,1229.7 L300.8,1227.8 L301.1,1225.8 L301.3,1223.8 L301.6,1221.8 L301.8,1219.8 L302.1,1217.8 L302.3,1215.9 L302.6,1213.9 L302.8,1211.9 L303.1,1209.9 L303.3,1207.9 L303.6,1205.9 L303.8,1203.9 L304.1,1202.0 L304.3,1200.0 L304.6,1198.0 L304.8,1196.0 L305.1,1194.0 L305.3,1192.0 L305.6,1190.1 L305.8,1188.1 L306.1,1186.1 L306.3,1184.1 L306.6,1182.1 L306.8,1180.1 L307.1,1178.1 L307.3,1176.2 L307.6,1174.2 L307.9,1172.2 L308.1,1170.2 L308.4,1168.2 L308.6,1166.2 L308.9,1164.3 L309.1,1162.3 L309.4,1160.3 L309.6,1158.3 L309.9,1156.3 L310.1,1154.3 L310.4,1152.4 L310.6,1150.4 L310.9,1148.4 L311.1,1146.4 L311.3,1144.4 L311.6,1142.4 L311.8,1140.4 L312.1,1138.5 L312.3,1136.5 L312.6,1134.5 L312.8,1132.5 L313.1,1130.5 L313.3,1128.5 L313.6,1126.5 L313.8,1124.6 L314.1,1122.6 L314.3,1120.6 L314.6,1118.6 L314.8,1116.6 L315.1,1114.6 L315.3,1112.7 L315.6,1110.7 L315.8,1108.7 L316.1,1106.7 L316.3,1104.7 L316.6,1102.7 L316.8,1100.7 L317.1,1098.8 L317.3,1096.8 L317.6,1094.8 L317.8,1092.8 L318.0,1090.8 L318.3,1088.8 L318.5,1086.8 L318.8,1084.9 L319.0,1082.9 L319.3,1080.9 L319.6,1078.9 L319.8,1076.9 L320.1,1074.9 L320.4,1073.0 L320.6,1071.0 L320.9,1069.0 L321.2,1067.0 L321.5,1065.0 L321.7,1063.1 L322.0,1061.1 L322.3,1059.1 L322.5,1057.1 L322.8,1055.1 L323.1,1053.2 L323.4,1051.2 L323.6,1049.2 L323.9,1047.2 L324.2,1045.2 L324.5,1043.2 L324.7,1041.3 L325.0,1039.3 L325.3,1037.3 L325.5,1035.3 L325.8,1033.3 L326.1,1031.4 L326.4,1029.4 L326.6,1027.4 L326.9,1025.4 L327.2,1023.4 L327.5,1021.4 L327.7,1019.5 L328.0,1017.5 L328.3,1015.5 L328.5,1013.5 L328.8,1011.5 L329.1,1009.6 L329.4,1007.6 L329.6,1005.6 L329.9,1003.6 L330.2,1001.6 L330.4,999.6 L330.7,997.7 L331.0,995.7 L331.2,993.7 L331.5,991.7 L331.8,989.7 L332.0,987.7 L332.3,985.8 L332.5,983.8 L332.8,981.8 L333.1,979.8 L333.3,977.8 L333.6,975.8 L333.9,973.9 L334.1,971.9 L334.4,969.9 L334.7,967.9 L334.9,965.9 L335.2,964.0 L335.4,962.0 L335.7,960.0 L335.9,958.0 L336.2,956.0 L336.4,954.0 L336.7,952.0 L336.9,950.1 L337.2,948.1 L337.4,946.1 L337.6,944.1 L337.9,942.1 L338.1,940.1 L338.4,938.1 L338.6,936.2 L338.9,934.2 L339.1,932.2 L339.3,930.2 L339.6,928.2 L339.8,926.2 L340.1,924.2 L340.3,922.3 L340.5,920.3 L340.8,918.3 L341.0,916.3 L341.3,914.3 L341.5,912.3 L341.8,910.3 L342.1,908.4 L342.3,906.4 L342.6,904.4 L342.9,902.4 L343.2,900.4 L343.5,898.5 L343.8,896.5 L344.0,894.5 L344.3,892.5 L344.6,890.5 L344.9,888.6 L345.2,886.6 L345.5,884.6 L345.8,882.6 L346.0,880.6 L346.3,878.7 L346.6,876.7 L346.9,874.7 L347.2,872.7 L347.5,870.7 L347.8,868.8 L348.1,866.8 L348.4,864.8 L348.7,862.8 L349.0,860.9 L349.4,858.9 L349.7,856.9 L350.1,855.0 L350.5,853.0 L350.8,851.0 L351.2,849.1 L351.6,847.1 L351.9,845.1 L352.3,843.2 L352.6,841.2 L353.0,839.2 L353.3,837.3 L353.6,835.3 L353.9,833.3 L354.2,831.3 L354.5,829.3 L354.8,827.4 L355.1,825.4 L355.4,823.4 L355.7,821.4 L356.0,819.5 L356.3,817.5 L356.6,815.5 L356.9,813.5 L357.2,811.5 L357.5,809.6 L357.8,807.6 L358.1,805.6 L358.4,803.6 L358.7,801.7 L359.0,799.7 L359.4,797.7 L359.8,795.8 L360.2,793.8 L360.6,791.8 L361.0,789.9 L361.4,787.9 L361.8,786.0 L362.2,784.0 L362.7,782.1 L363.3,780.2 L363.9,778.3 L364.6,776.4 L365.4,774.6 L366.1,772.7 L366.9,770.9 L367.7,769.0 L368.5,767.2 L369.3,765.4 L370.1,763.5 L370.8,761.7 L371.6,759.8 L372.3,758.0 L373.0,756.1 L373.7,754.2 L374.4,752.3 L375.1,750.5 L375.8,748.6 L376.5,746.7 L377.3,744.9 L378.2,743.1 L379.1,741.3 L380.0,739.6 L380.9,737.8 L381.9,736.0 L382.8,734.3 L383.8,732.5 L384.8,730.8 L385.7,729.0 L386.7,727.3 L387.7,725.5 L388.7,723.8 L389.7,722.0 L390.7,720.3 L391.7,718.6 L392.8,716.9 L393.9,715.2 L394.9,713.5 L396.0,711.9 L397.1,710.2 L398.2,708.5 L399.4,706.9 L400.5,705.3 L401.7,703.7 L402.9,702.0 L404.1,700.4 L405.2,698.8 L406.4,697.2 L407.6,695.6 L408.8,693.9 L409.9,692.3 L411.1,690.7 L412.3,689.1 L413.5,687.5 L414.6,685.9 L415.8,684.2 L417.0,682.6 L418.2,681.0 L419.4,679.4 L420.6,677.8 L421.8,676.2 L423.0,674.7 L424.3,673.1 L425.5,671.5 L426.7,669.9 L427.9,668.3 L429.2,666.7 L430.4,665.2 L431.6,663.6 L432.8,662.0 L434.1,660.4 L435.3,658.8 L436.5,657.2 L437.7,655.6 L438.9,654.0 L440.1,652.4 L441.3,650.8 L442.5,649.2 L443.7,647.6 L444.9,646.0 L446.1,644.4 L447.2,642.8 L448.4,641.2 L449.5,639.5 L450.6,637.8 L451.6,636.1 L452.7,634.4 L453.7,632.7 L454.7,631.0 L455.8,629.3 L456.8,627.6 L457.9,625.9 L458.9,624.2 L460.0,622.5 L461.0,620.8 L462.1,619.1 L463.2,617.4 L464.2,615.7 L465.3,614.0 L466.3,612.3 L467.4,610.6 L468.5,608.9 L469.5,607.2 L470.5,605.5 L471.6,603.8 L472.5,602.0 L473.4,600.3 L474.2,598.5 L474.9,596.6 L475.6,594.7 L476.2,592.8 L476.8,590.9 L477.4,589.0 L478.0,587.1 L478.6,585.2 L479.2,583.3 L479.8,581.4 L480.4,579.4 L481.0,577.5 L481.5,575.6 L482.1,573.7 L482.7,571.8 L483.2,569.9 L483.7,567.9 L484.1,566.0 L484.5,564.0 L484.9,562.1 L485.3,560.1 L485.8,558.1 L486.2,556.2 L486.6,554.2 L487.0,552.3 L487.4,550.3 L487.8,548.3 L488.2,546.4 L488.6,544.4 L489.0,542.5 L489.3,540.5 L489.7,538.5 L490.1,536.6 L490.4,534.6 L490.8,532.6 L491.1,530.6 L491.4,528.7 L491.8,526.7 L492.1,524.7 L492.4,522.8 L492.8,520.8 L493.1,518.8 L493.4,516.8 L493.8,514.9 L494.1,512.9 L494.4,510.9 L494.8,509.0 L495.1,507.0 L495.4,505.0 L495.8,503.0 L496.1,501.1 L496.4,499.1 L496.7,497.1 L497.0,495.1 L497.3,493.2 L497.6,491.2 L497.9,489.2 L498.2,487.2 L498.5,485.2 L498.8,483.3 L499.1,481.3 L499.4,479.3 L499.7,477.3 L499.9,475.3 L500.2,473.4 L500.5,471.4 L500.8,469.4 L501.1,467.4 L501.4,465.5 L501.7,463.5 L502.0,461.5 L502.3,459.5 L502.6,457.5 L502.9,455.6 L503.2,453.6 L503.5,451.6 L503.8,449.6 L504.1,447.7 L504.4,445.7 L504.7,443.7 L505.1,441.7 L505.4,439.8 L505.7,437.8 L506.0,435.8 L506.4,433.8 L506.7,431.9 L507.0,429.9 L507.3,427.9 L507.7,425.9 L508.0,424.0 L508.3,422.0 L508.6,420.0 L509.0,418.0 L509.3,416.1 L509.6,414.1 L509.9,412.1 L510.3,410.2 L510.6,408.2 L510.9,406.2 L511.1,404.2 L511.4,402.2 L511.7,400.3 L511.9,398.3 L512.2,396.3 L512.5,394.3 L512.7,392.3 L513.0,390.3 L513.2,388.4 L513.5,386.4 L513.8,384.4 L514.0,382.4 L514.3,380.4 L514.6,378.4 L514.8,376.5 L515.1,374.5 L515.3,372.5 L515.6,370.5 L515.9,368.5 L516.1,366.5 L516.4,364.6 L516.7,362.6 L516.9,360.6 L517.2,358.6 L517.6,356.6 L517.9,354.7 L518.2,352.7 L518.6,350.7 L518.9,348.8 L519.3,346.8 L519.6,344.8 L519.9,342.8 L520.3,340.9 L520.6,338.9 L521.0,336.9 L521.3,335.0 L521.7,333.0 L522.0,331.0 L522.3,329.0 L522.7,327.1 L523.0,325.1 L523.4,323.1 L523.7,321.2 L524.0,319.2 L524.4,317.2 L524.7,315.3 L525.1,313.3 L525.5,311.3 L525.8,309.4 L526.2,307.4 L526.6,305.4 L527.0,303.5 L527.4,301.5 L527.7,299.5 L528.1,297.6 L528.5,295.6 L528.9,293.6 L529.2,291.7 L529.6,289.7 L530.0,287.8 L530.4,285.8 L530.8,283.8 L531.1,281.9 L531.5,279.9 L531.9,277.9 L532.2,276.0 L532.6,274.0 L533.0,272.0 L533.4,270.1 L533.8,268.1 L534.3,266.2 L534.8,264.2 L535.3,262.3 L535.8,260.4 L536.4,258.5 L537.0,256.6 L537.7,254.7 L538.5,252.9 L539.3,251.1 L540.2,249.3 L541.3,247.7 L542.5,246.2 L543.9,244.8 L545.3,243.5 L546.9,242.3 L548.6,241.3 L550.3,240.3 L552.1,239.5 L554.0,238.8 L555.8,238.1 L557.7,237.4 L559.6,236.8 L561.5,236.3 L563.5,235.7 L565.4,235.2 L567.3,234.7 L569.3,234.2 L571.2,233.7 L573.1,233.2 L575.1,232.8 L577.1,232.4 L579.0,232.1 L581.0,231.8 L583.0,231.6 L585.0,231.3 L587.0,231.0 L588.9,230.8 L590.9,230.5 L592.9,230.3 L594.9,230.1 L596.9,229.8 L598.9,229.6 L600.9,229.4 L602.9,229.3 L604.8,229.2 L606.8,229.0 L608.8,228.9 L610.8,228.8 L612.8,228.7 L614.8,228.6 L616.8,228.5 L618.8,228.4 L620.8,228.3 L622.8,228.2 L624.8,228.1 L626.8,228.0 L628.8,227.9 L630.8,227.8 L632.8,227.7 L634.8,227.6 L636.8,227.5 L638.8,227.4 L640.8,227.3 L642.8,227.2 L644.8,227.1 L646.8,227.0 L648.8,226.9 L650.8,226.8 L652.8,226.8 L654.8,226.7 L656.8,226.7 L658.8,226.7 L660.8,226.6 L662.8,226.6 L664.8,226.6 L666.8,226.5 L668.8,226.5 L670.8,226.5 L672.8,226.4 L674.8,226.4 L676.8,226.4 L678.8,226.3 L680.8,226.3 L682.8,226.3 L684.8,226.2 L686.8,226.2 L688.8,226.2 L690.8,226.1 L692.8,226.1 L694.8,226.1 L696.8,226.1 L698.8,226.0 L700.8,226.0 L702.8,226.0 L704.8,226.0 L706.8,226.0 L708.8,225.9 L710.8,225.9 L712.8,225.9 L714.8,225.9 L716.8,225.9 L718.8,225.9 L720.8,225.9 L722.8,225.8 L724.8,225.8 L726.8,225.8 L728.8,225.8 L730.8,225.8 L732.8,225.8 L734.8,225.8 L736.8,225.7 L738.8,225.7 L740.8,225.7 L742.8,225.7 L744.8,225.7 L746.8,225.7 L748.8,225.7 L750.8,225.6 L752.8,225.6 L754.8,225.6 L756.8,225.6 L758.8,225.6 L760.8,225.6 L762.8,225.6 L764.8,225.6 L766.8,225.6 L768.8,225.6 L770.8,225.6 L772.8,225.6 L774.8,225.6 L776.8,225.6 L778.8,225.6 L780.8,225.6 L782.8,225.6 L784.8,225.6 L786.8,225.6 L788.8,225.6 L790.8,225.6 L792.8,225.6 L794.8,225.6 L796.8,225.6 L798.8,225.6 L800.8,225.6 L802.8,225.6 L804.8,225.5 L806.8,225.5 L808.8,225.5 L810.8,225.5 L812.8,225.5 L814.8,225.5 L816.8,225.5 L818.8,225.5 L820.8,225.5 L822.8,225.5 L824.8,225.5 L826.8,225.5 L828.8,225.5 L830.8,225.5 L832.8,225.5 L834.8,225.5 L836.8,225.5 L838.8,225.5 L840.8,225.5 L842.8,225.5 L844.8,225.5 L846.8,225.5 L848.8,225.5 L850.8,225.5 L852.8,225.5 L854.8,225.5 L856.8,225.5 L858.8,225.5 L860.8,225.5 L862.8,225.5 L864.8,225.5 L866.8,225.5 L868.8,225.5 L870.8,225.5 L872.8,225.5 L874.8,225.5 L876.8,225.5 L878.8,225.5 L880.8,225.5 L882.8,225.5 L884.8,225.5 L886.8,225.5 L888.8,225.5 L890.8,225.5 L892.8,225.5 L894.8,225.5 L896.8,225.5 L898.8,225.6 L900.8,225.6 L902.8,225.6 L904.8,225.6 L906.8,225.6 L908.8,225.6 L910.8,225.6 L912.8,225.6 L914.8,225.6 L916.8,225.6 L918.8,225.6 L920.8,225.6 L922.8,225.6 L924.8,225.6 L926.8,225.6 L928.8,225.6 L930.8,225.6 L932.8,225.6 L934.8,225.6 L936.8,225.6 L938.8,225.6 L940.8,225.6 L942.8,225.6 L944.8,225.6 L946.8,225.6 L948.8,225.6 L950.8,225.7 L952.8,225.7 L954.8,225.7 L956.8,225.7 L958.8,225.8 L960.8,225.8 L962.8,225.8 L964.8,225.8 L966.8,225.8 L968.8,225.9 L970.8,225.9 L972.8,225.9 L974.8,225.9 L976.8,225.9 L978.8,226.0 L980.8,226.0 L982.8,226.0 L984.8,226.0 L986.8,226.1 L988.8,226.1 L990.8,226.1 L992.8,226.1 L994.8,226.2 L996.8,226.2 L998.8,226.2 L1000.8,226.3 L1002.8,226.4 L1004.8,226.5 L1006.8,226.6 L1008.8,226.7 L1010.8,226.8 L1012.8,226.9 L1014.8,227.0 L1016.8,227.1 L1018.8,227.2 L1020.8,227.3 L1022.8,227.4 L1024.8,227.5 L1026.8,227.6 L1028.8,227.7 L1030.8,227.8 L1032.8,227.9 L1034.8,228.0 L1036.8,228.1 L1038.8,228.3 L1040.8,228.4 L1042.8,228.5 L1044.8,228.7 L1046.8,228.8 L1048.8,228.9 L1050.8,229.1 L1052.8,229.2 L1054.7,229.4 L1056.7,229.5 L1058.7,229.7 L1060.7,229.8 L1062.7,230.0 L1064.7,230.1 L1066.7,230.3 L1068.7,230.5 L1070.7,230.7 L1072.7,230.9 L1074.7,231.2 L1076.6,231.4 L1078.6,231.7 L1080.6,232.0 L1082.6,232.3 L1084.6,232.5 L1086.6,232.8 L1088.5,233.1 L1090.5,233.4 L1092.5,233.7 L1094.4,234.1 L1096.4,234.5 L1098.3,235.0 L1100.3,235.5 L1102.2,236.0 L1104.1,236.5 L1106.1,237.0 L1108.0,237.6 L1109.9,238.1 L1111.8,238.7 L1113.7,239.4 L1115.5,240.1 L1117.3,241.0 L1119.1,241.9 L1120.8,242.8 L1122.6,243.8 L1124.3,244.8 L1126.1,245.8 L1127.8,246.8 L1129.4,247.9 L1131.1,249.1 L1132.7,250.2 L1134.3,251.5 L1135.8,252.7 L1137.4,253.9 L1138.9,255.2 L1140.5,256.5 L1142.0,257.8 L1143.4,259.2 L1144.8,260.6 L1146.0,262.1 L1147.1,263.7 L1148.1,265.4 L1148.9,267.2 L1149.7,269.0 L1150.4,270.9 L1151.1,272.7 L1151.8,274.6 L1152.6,276.5 L1153.3,278.3 L1154.0,280.2 L1154.7,282.1 L1155.5,283.9 L1156.2,285.8 L1156.9,287.6 L1157.6,289.5 L1158.3,291.4 L1159.0,293.3 L1159.7,295.2 L1160.3,297.1 L1160.8,299.0 L1161.3,300.9 L1161.9,302.8 L1162.4,304.8 L1162.9,306.7 L1163.4,308.6 L1163.9,310.6 L1164.4,312.5 L1164.9,314.5 L1165.4,316.4 L1165.9,318.3 L1166.4,320.3 L1166.9,322.2 L1167.4,324.1 L1167.9,326.1 L1168.4,328.0 L1168.9,330.0 L1169.3,331.9 L1169.6,333.9 L1170.0,335.8 L1170.4,337.8 L1170.7,339.8 L1171.0,341.8 L1171.4,343.7 L1171.7,345.7 L1172.1,347.7 L1172.4,349.6 L1172.8,351.6 L1173.1,353.6 L1173.4,355.5 L1173.8,357.5 L1174.1,359.5 L1174.5,361.5 L1174.8,363.4 L1175.2,365.4 L1175.5,367.4 L1175.8,369.3 L1176.2,371.3 L1176.5,373.3 L1176.9,375.3 L1177.2,377.2 L1177.5,379.2 L1177.8,381.2 L1178.2,383.2 L1178.4,385.1 L1178.7,387.1 L1179.0,389.1 L1179.3,391.1 L1179.6,393.0 L1179.9,395.0 L1180.2,397.0 L1180.5,399.0 L1180.8,401.0 L1181.1,402.9 L1181.4,404.9 L1181.7,406.9 L1181.9,408.9 L1182.2,410.9 L1182.5,412.8 L1182.8,414.8 L1183.1,416.8 L1183.4,418.8 L1183.7,420.8 L1184.0,422.7 L1184.3,424.7 L1184.6,426.7 L1184.9,428.7 L1185.1,430.6 L1185.4,432.6 L1185.7,434.6 L1186.0,436.6 L1186.3,438.6 L1186.6,440.5 L1186.9,442.5 L1187.2,444.5 L1187.5,446.5 L1187.8,448.5 L1188.1,450.4 L1188.3,452.4 L1188.6,454.4 L1188.9,456.4 L1189.2,458.4 L1189.5,460.3 L1189.8,462.3 L1190.1,464.3 L1190.4,466.3 L1190.7,468.2 L1191.0,470.2 L1191.3,472.2 L1191.5,474.2 L1191.8,476.2 L1192.1,478.1 L1192.4,480.1 L1192.7,482.1 L1193.0,484.1 L1193.2,486.1 L1193.5,488.0 L1193.8,490.0 L1194.1,492.0 L1194.3,494.0 L1194.6,496.0 L1194.9,498.0 L1195.2,499.9 L1195.4,501.9 L1195.7,503.9 L1196.0,505.9 L1196.2,507.9 L1196.5,509.8 L1196.8,511.8 L1197.1,513.8 L1197.3,515.8 L1197.6,517.8 L1197.9,519.8 L1198.2,521.7 L1198.4,523.7 L1198.7,525.7 L1199.0,527.7 L1199.3,529.7 L1199.5,531.6 L1199.8,533.6 L1200.1,535.6 L1200.3,537.6 L1200.6,539.6 L1200.9,541.5 L1201.2,543.5 L1201.4,545.5 L1201.7,547.5 L1202.0,549.5 L1202.3,551.5 L1202.5,553.4 L1202.8,555.4 L1203.1,557.4 L1203.4,559.4 L1203.6,561.4 L1203.9,563.3 L1204.2,565.3 L1204.4,567.3 L1204.7,569.3 L1205.0,571.3 L1205.3,573.3 L1205.5,575.2 L1205.8,577.2 L1206.1,579.2 L1206.4,581.2 L1206.6,583.2 L1206.9,585.1 L1207.2,587.1 L1207.5,589.1 L1207.7,591.1 L1208.0,593.1 L1208.3,595.1 L1208.6,597.0 L1208.8,599.0 L1209.1,601.0 L1209.4,603.0 L1209.6,605.0 L1209.9,606.9 L1210.2,608.9 L1210.5,610.9 L1210.7,612.9 L1211.0,614.9 L1211.3,616.8 L1211.6,618.8 L1211.8,620.8 L1212.1,622.8 L1212.4,624.8 L1212.7,626.8 L1212.9,628.7 L1213.2,630.7 L1213.5,632.7 L1213.7,634.7 L1214.0,636.7 L1214.3,638.6 L1214.6,640.6 L1214.8,642.6 L1215.1,644.6 L1215.4,646.6 L1215.7,648.6 L1215.9,650.5 L1216.2,652.5 L1216.5,654.5 L1216.8,656.5 L1217.0,658.5 L1217.3,660.4 L1217.6,662.4 L1217.8,664.4 L1218.1,666.4 L1218.4,668.4 L1218.7,670.3 L1218.9,672.3 L1219.2,674.3 L1219.5,676.3 L1219.8,678.3 L1220.0,680.3 L1220.3,682.2 L1220.6,684.2 L1220.8,686.2 L1221.1,688.2 L1221.4,690.2 L1221.6,692.2 L1221.9,694.1 L1222.1,696.1 L1222.4,698.1 L1222.7,700.1 L1222.9,702.1 L1223.2,704.1 L1223.5,706.0 L1223.7,708.0 L1224.0,710.0 L1224.3,712.0 L1224.5,714.0 L1224.8,715.9 L1225.0,717.9 L1225.3,719.9 L1225.6,721.9 L1225.8,723.9 L1226.1,725.9 L1226.4,727.8 L1226.6,729.8 L1226.9,731.8 L1227.2,733.8 L1227.4,735.8 L1227.7,737.8 L1227.9,739.7 L1228.2,741.7 L1228.5,743.7 L1228.7,745.7 L1229.0,747.7 L1229.3,749.7 L1229.5,751.6 L1229.8,753.6 L1230.1,755.6 L1230.3,757.6 L1230.6,759.6 L1230.8,761.6 L1231.1,763.5 L1231.4,765.5 L1231.6,767.5 L1231.9,769.5 L1232.2,771.5 L1232.4,773.5 L1232.7,775.4 L1233.0,777.4 L1233.3,779.4 L1233.6,781.4 L1233.9,783.3 L1234.2,785.3 L1234.5,787.3 L1234.9,789.3 L1235.2,791.2 L1235.5,793.2 L1235.8,795.2 L1236.2,797.2 L1236.5,799.1 L1236.8,801.1 L1237.2,803.1 L1237.5,805.0 L1237.8,807.0 L1238.2,809.0 L1238.5,811.0 L1238.9,812.9 L1239.2,814.9 L1239.6,816.9 L1240.0,818.8 L1240.4,820.8 L1240.9,822.7 L1241.3,824.7 L1241.7,826.6 L1242.1,828.6 L1242.6,830.5 L1243.0,832.5 L1243.4,834.5 L1243.8,836.4 L1244.3,838.4 L1244.7,840.3 L1245.1,842.3 L1245.5,844.2 L1246.0,846.2 L1246.4,848.1 L1246.8,850.1 L1247.2,852.1 L1247.6,854.0 L1248.0,856.0 L1248.4,857.9 L1248.8,859.9 L1249.1,861.9 L1249.5,863.8 L1249.9,865.8 L1250.4,867.7 L1250.8,869.7 L1251.3,871.6 L1251.9,873.5 L1252.5,875.4 L1253.1,877.3 L1253.8,879.2 L1254.5,881.1 L1255.2,882.9 L1256.0,884.7 L1256.9,886.5 L1258.0,888.1 L1259.2,889.6 L1260.5,891.1 L1261.9,892.4 L1263.4,893.8 L1264.9,895.1 L1266.4,896.4 L1268.0,897.6 L1269.6,898.7 L1271.4,899.7 L1273.1,900.5 L1274.9,901.3 L1276.8,902.1 L1278.6,902.9 L1280.5,903.6 L1282.3,904.4 L1284.2,905.1 L1286.1,905.9 L1287.9,906.6 L1289.8,907.2 L1291.7,907.9 L1293.6,908.4 L1295.5,909.0 L1297.5,909.5 L1299.4,910.1 L1301.3,910.6 L1303.2,911.1 L1305.2,911.6 L1307.1,912.2 L1309.0,912.7 L1311.0,913.2 L1312.9,913.8 L1314.8,914.3 L1316.8,914.8 L1318.7,915.3 L1320.6,915.9 L1322.5,916.4 L1324.5,916.9 L1326.4,917.4 L1328.3,918.0 L1330.3,918.5 L1332.2,919.0 L1334.1,919.6 L1336.0,920.1 L1338.0,920.6 L1339.9,921.1 L1341.8,921.7 L1343.8,922.2 L1345.7,922.7 L1347.6,923.2 L1349.6,923.8 L1351.5,924.3 L1353.4,924.8 L1355.4,925.3 L1357.3,925.8 L1359.2,926.3 L1361.2,926.8 L1363.1,927.3 L1365.0,927.8 L1367.0,928.3 L1368.9,928.9 L1370.8,929.4 L1372.8,929.9 L1374.7,930.4 L1376.6,930.9 L1378.6,931.4 L1380.5,931.9 L1382.4,932.4 L1384.4,932.9 L1386.3,933.4 L1388.3,933.9 L1390.2,934.4 L1392.1,934.9 L1394.1,935.4 L1396.0,936.0 L1397.9,936.5 L1399.9,937.0 L1401.8,937.5 L1403.7,938.0 L1405.7,938.5 L1407.6,939.1 L1409.5,939.6 L1411.4,940.1 L1413.4,940.6 L1415.3,941.2 L1417.2,941.7 L1419.2,942.2 L1421.1,942.7 L1423.0,943.3 L1424.9,943.9 L1426.8,944.5 L1428.7,945.2 L1430.5,946.0 L1432.4,946.8 L1434.2,947.6 L1436.0,948.5 L1437.8,949.3 L1439.5,950.3 L1441.2,951.3 L1442.9,952.4 L1444.5,953.6 L1446.0,954.8 L1447.5,956.2 L1448.9,957.6 L1450.2,959.0 L1451.4,960.6 L1452.5,962.3 L1453.5,964.0 L1454.4,965.7 L1455.3,967.5 L1456.1,969.3 L1456.7,971.2 L1457.4,973.1 L1458.0,975.0 L1458.6,976.9 L1459.2,978.8 L1459.7,980.7 L1460.3,982.6 L1460.8,984.6 L1461.2,986.5 L1461.7,988.5 L1462.1,990.4 L1462.5,992.4 L1463.0,994.3 L1463.4,996.3 L1463.8,998.3 L1464.1,1000.2 L1464.4,1002.2 L1464.7,1004.2 L1465.0,1006.2 L1465.3,1008.1 L1465.5,1010.1 L1465.8,1012.1 L1466.1,1014.1 L1466.3,1016.1 L1466.6,1018.1 L1466.9,1020.0 L1467.1,1022.0 L1467.4,1024.0 L1467.6,1026.0 L1467.9,1028.0 L1468.2,1030.0 L1468.4,1031.9 L1468.7,1033.9 L1469.0,1035.9 L1469.2,1037.9 L1469.5,1039.9 L1469.7,1041.8 L1470.0,1043.8 L1470.3,1045.8 L1470.5,1047.8 L1470.8,1049.8 L1471.0,1051.8 L1471.3,1053.8 L1471.5,1055.7 L1471.8,1057.7 L1472.1,1059.7 L1472.3,1061.7 L1472.6,1063.7 L1472.8,1065.7 L1473.1,1067.6 L1473.4,1069.6 L1473.6,1071.6 L1473.9,1073.6 L1474.1,1075.6 L1474.4,1077.6 L1474.6,1079.5 L1474.9,1081.5 L1475.1,1083.5 L1475.3,1085.5 L1475.6,1087.5 L1475.8,1089.5 L1476.0,1091.5 L1476.3,1093.4 L1476.5,1095.4 L1476.7,1097.4 L1477.0,1099.4 L1477.2,1101.4 L1477.4,1103.4 L1477.7,1105.4 L1477.9,1107.4 L1478.1,1109.3 L1478.4,1111.3 L1478.6,1113.3 L1478.9,1115.3 L1479.1,1117.3 L1479.3,1119.3 L1479.6,1121.3 L1479.8,1123.2 L1480.1,1125.2 L1480.3,1127.2 L1480.6,1129.2 L1480.9,1131.2 L1481.1,1133.2 L1481.4,1135.1 L1481.6,1137.1 L1481.9,1139.1 L1482.1,1141.1 L1482.4,1143.1 L1482.7,1145.1 L1482.9,1147.0 L1483.2,1149.0 L1483.4,1151.0 L1483.7,1153.0 L1483.9,1155.0 L1484.2,1157.0 L1484.5,1158.9 L1484.7,1160.9 L1484.9,1162.9 L1485.2,1164.9 L1485.4,1166.9 L1485.7,1168.9 L1485.9,1170.9 L1486.1,1172.8 L1486.4,1174.8 L1486.6,1176.8 L1486.9,1178.8 L1487.1,1180.8 L1487.3,1182.8 L1487.6,1184.8 L1487.8,1186.7 L1488.0,1188.7 L1488.3,1190.7 L1488.5,1192.7 L1488.8,1194.7 L1489.0,1196.7 L1489.2,1198.7 L1489.5,1200.6 L1489.7,1202.6 L1490.0,1204.6 L1490.2,1206.6 L1490.4,1208.6 L1490.7,1210.6 L1490.9,1212.6 L1491.1,1214.6 L1491.4,1216.5 L1491.6,1218.5 L1491.9,1220.5 L1492.1,1222.5 L1492.3,1224.5 L1492.6,1226.5 L1492.8,1228.5 L1493.1,1230.4 L1493.3,1232.4 L1493.5,1234.4 L1493.8,1236.4 L1494.0,1238.4 L1494.3,1240.4 L1494.6,1242.3 L1494.9,1244.3 L1495.2,1246.3 L1495.5,1248.3 L1495.8,1250.3 L1496.1,1252.2 L1496.4,1254.2 L1496.7,1256.2 L1497.0,1258.2 L1497.3,1260.1 L1497.6,1262.1 L1497.9,1264.1 L1498.2,1266.1 L1498.5,1268.0 L1498.8,1270.0 L1499.1,1272.0 L1499.4,1274.0 L1499.7,1276.0 L1500.0,1277.9 L1500.3,1279.9 L1500.6,1281.9 L1500.9,1283.9 L1501.2,1285.8 L1501.6,1287.8 L1501.9,1289.8 L1502.2,1291.8 L1502.5,1293.8 L1502.8,1295.7 L1503.1,1297.7 L1503.4,1299.7 L1503.7,1301.7 L1504.0,1303.6 L1504.3,1305.6 L1504.6,1307.6 L1504.9,1309.6 L1505.2,1311.5 L1505.5,1313.5 L1505.8,1315.5 L1506.1,1317.5 L1506.5,1319.4 L1506.9,1321.4 L1507.2,1323.4 L1507.6,1325.3 L1508.0,1327.3 L1508.4,1329.2 L1508.9,1331.2 L1509.3,1333.2 L1509.7,1335.1 L1510.1,1337.1 L1510.5,1339.0 L1510.9,1341.0 L1511.3,1342.9 L1511.7,1344.9 L1512.2,1346.9 L1512.6,1348.8 L1513.0,1350.8 L1513.5,1352.7 L1514.0,1354.6 L1514.5,1356.6 L1515.0,1358.5 L1515.6,1360.4 L1516.1,1362.4 L1516.6,1364.3 L1517.1,1366.2 L1517.7,1368.2 L1518.2,1370.1 L1518.7,1372.0 L1519.3,1373.9 L1519.8,1375.9 L1520.4,1377.8 L1520.9,1379.7 L1521.5,1381.6 L1522.0,1383.5 L1522.7,1385.4 L1523.3,1387.3 L1524.0,1389.2 L1524.7,1391.1 L1525.4,1393.0 L1526.1,1394.8 L1526.8,1396.7 L1527.6,1398.5 L1528.4,1400.3 L1529.4,1402.1 L1530.3,1403.8 L1531.4,1405.5 L1532.5,1407.1 L1533.7,1408.7 L1535.0,1410.2 L1536.4,1411.7 L1537.8,1413.1 L1539.3,1414.4 L1540.8,1415.6 L1542.4,1416.8 L1544.1,1417.9 L1545.8,1418.9 L1547.5,1420.0 L1549.2,1421.0 L1551.0,1421.9 L1552.7,1422.9 L1554.5,1423.8 L1556.3,1424.8 L1558.1,1425.6 L1559.9,1426.5 L1561.7,1427.3 L1563.6,1428.0 L1565.4,1428.7 L1567.3,1429.5 L1569.2,1430.2 L1571.0,1430.9 L1572.9,1431.6 L1574.8,1432.3 L1576.7,1433.0 L1578.5,1433.7 L1580.4,1434.4 L1582.3,1435.1 L1584.2,1435.8 L1586.1,1436.4 L1588.0,1437.0 L1589.9,1437.5 L1591.8,1437.9 L1593.8,1438.3 L1595.8,1438.7 L1597.7,1439.2 L1599.7,1439.6 L1601.6,1440.0 L1603.6,1440.4 L1605.5,1440.8 L1607.5,1441.2 L1609.5,1441.6 L1611.4,1441.9 L1613.4,1442.3 L1615.4,1442.7 L1617.3,1443.0 L1619.3,1443.3 L1621.3,1443.7 L1623.3,1443.9 L1625.2,1444.2 L1627.2,1444.5 L1629.2,1444.8 L1631.2,1445.1 L1633.2,1445.4 L1635.1,1445.7 L1637.1,1446.0 L1639.1,1446.3 L1641.1,1446.6 L1643.1,1446.8 L1645.0,1447.0 L1647.0,1447.2 L1649.0,1447.4 L1651.0,1447.5 L1653.0,1447.7 L1655.0,1447.8 L1657.0,1447.9 L1659.0,1448.1 L1661.0,1448.2 L1663.0,1448.4 L1665.0,1448.5 L1667.0,1448.6 L1669.0,1448.8 L1671.0,1448.9 L1673.0,1449.0 L1675.0,1449.1 L1677.0,1449.2 L1679.0,1449.2 L1681.0,1449.3 L1683.0,1449.4 L1685.0,1449.5 L1687.0,1449.5 L1689.0,1449.6 L1691.0,1449.7 L1693.0,1449.7 L1695.0,1449.8 L1697.0,1449.9 L1699.0,1449.9 L1701.0,1450.0 L1703.0,1450.0 L1705.0,1450.0 L1707.0,1450.0 L1709.0,1450.0 L1711.0,1450.0 L1713.0,1450.1 L1715.0,1450.1 L1717.0,1450.1 L1719.0,1450.1 L1721.0,1450.1 L1723.0,1450.1 L1725.0,1450.1 L1727.0,1450.1 L1729.0,1450.1 L1731.0,1450.1 L1733.0,1450.1 L1735.0,1450.1 L1737.0,1450.1 L1739.0,1450.2 L1741.0,1450.2 L1743.0,1450.2 L1745.0,1450.2 L1747.0,1450.2 L1749.0,1450.2 L1751.0,1450.2 L1753.0,1450.2 L1755.0,1450.2 L1757.0,1450.2 L1759.0,1450.2 L1761.0,1450.2 L1763.0,1450.3 L1765.0,1450.3 L1767.0,1450.3 L1769.0,1450.3 L1771.0,1450.3 L1773.0,1450.3 L1775.0,1450.3 L1777.0,1450.3 L1779.0,1450.3 L1781.0,1450.3 L1783.0,1450.3 L1785.0,1450.3 L1787.0,1450.3 L1789.0,1450.4 L1791.0,1450.4 L1793.0,1450.4 L1795.0,1450.4 L1797.0,1450.4 L1799.0,1450.4 L1801.0,1450.4 L1803.0,1450.4 L1805.0,1450.4 L1807.0,1450.4 L1809.0,1450.4 L1811.0,1450.4 L1813.0,1450.4 L1815.0,1450.4 L1817.0,1450.4 L1819.0,1450.4 L1821.0,1450.4 L1823.0,1450.4 L1825.0,1450.4 L1827.0,1450.4 L1829.0,1450.4 L1831.0,1450.4 L1833.0,1450.4 L1835.0,1450.4 L1837.0,1450.4 L1839.0,1450.4 L1841.0,1450.4 L1843.0,1450.4 L1845.0,1450.4 L1847.0,1450.4 L1849.0,1450.4 L1851.0,1450.4 L1853.0,1450.4 L1855.0,1450.4 L1857.0,1450.4 L1859.0,1450.4 L1861.0,1450.4 L1863.0,1450.4 L1865.0,1450.4 L1867.0,1450.4 L1869.0,1450.4 L1871.0,1450.4 L1873.0,1450.4 L1875.0,1450.4 L1877.0,1450.4 L1879.0,1450.4 L1881.0,1450.4 L1883.0,1450.5 L1885.0,1450.5 L1887.0,1450.5 L1889.0,1450.5 L1891.0,1450.5 L1893.0,1450.5 L1895.0,1450.5 L1897.0,1450.5 L1899.0,1450.5 L1901.0,1450.5 L1903.0,1450.5 L1905.0,1450.5 L1907.0,1450.5 L1909.0,1450.5 L1911.0,1450.5 L1913.0,1450.5 L1915.0,1450.5 L1917.0,1450.5 L1919.0,1450.5 L1921.0,1450.5 L1923.0,1450.5 L1925.0,1450.5 L1927.0,1450.5 L1929.0,1450.5 L1931.0,1450.5 L1933.0,1450.5 L1935.0,1450.5 L1937.0,1450.5 L1939.0,1450.5 L1941.0,1450.5 L1943.0,1450.5 L1945.0,1450.5 L1947.0,1450.5 L1949.0,1450.5 L1951.0,1450.5 L1953.0,1450.5 L1955.0,1450.5 L1956.9,1450.5 L1958.7,1450.5 L1960.2,1450.5 L1961.4,1450.5"/>
<path stroke="#1A70DF" d="M272.7,1448.4 L272.8,1447.2 L273.0,1445.7 L273.2,1443.9 L273.5,1442.0 L273.7,1440.1 L274.0,1438.1 L274.2,1436.1 L274.5,1434.1 L274.7,1432.1 L275.0,1430.1 L275.2,1428.2 L275.4,1426.2 L275.7,1424.2 L275.9,1422.2 L276.2,1420.2 L276.4,1418.2 L276.7,1416.3 L276.9,1414.3 L277.2,1412.3 L277.4,1410.3 L277.6,1408.3 L277.9,1406.3 L278.1,1404.3 L278.4,1402.4 L278.6,1400.4 L278.9,1398.4 L279.1,1396.4 L279.4,1394.4 L279.6,1392.4 L279.9,1390.4 L280.1,1388.5 L280.3,1386.5 L280.6,1384.5 L280.8,1382.5 L281.1,1380.5 L281.3,1378.5 L281.6,1376.6 L281.8,1374.6 L282.1,1372.6 L282.3,1370.6 L282.5,1368.6 L282.8,1366.6 L283.0,1364.6 L283.3,1362.7 L283.5,1360.7 L283.8,1358.7 L284.0,1356.7 L284.3,1354.7 L284.5,1352.7 L284.8,1350.7 L285.0,1348.8 L285.2,1346.8 L285.5,1344.8 L285.7,1342.8 L286.0,1340.8 L286.2,1338.8 L286.5,1336.9 L286.7,1334.9 L287.0,1332.9 L287.2,1330.9 L287.4,1328.9 L287.7,1326.9 L287.9,1324.9 L288.2,1323.0 L288.4,1321.0 L288.7,1319.0 L288.9,1317.0 L289.2,1315.0 L289.4,1313.0 L289.7,1311.0 L289.9,1309.1 L290.1,1307.1 L290.4,1305.1 L290.6,1303.1 L290.9,1301.1 L291.1,1299.1 L291.4,1297.2 L291.6,1295.2 L291.9,1293.2 L292.1,1291.2 L292.4,1289.2 L292.6,1287.2 L292.9,1285.2 L293.1,1283.3 L293.3,1281.3 L293.6,1279.3 L293.8,1277.3 L294.1,1275.3 L294.3,1273.3 L294.6,1271.4 L294.8,1269.4 L295.1,1267.4 L295.3,1265.4 L295.6,1263.4 L295.8,1261.4 L296.1,1259.4 L296.3,1257.5 L296.5,1255.5 L296.8,1253.5 L297.0,1251.5 L297.3,1249.5 L297.5,1247.5 L297.8,1245.5 L298.0,1243.6 L298.3,1241.6 L298.5,1239.6 L298.8,1237.6 L299.0,1235.6 L299.3,1233.6 L299.5,1231.7 L299.8,1229.7 L300.0,1227.7 L300.2,1225.7 L300.5,1223.7 L300.7,1221.7 L301.0,1219.7 L301.2,1217.8 L301.5,1215.8 L301.7,1213.8 L302.0,1211.8 L302.2,1209.8 L302.5,1207.8 L302.7,1205.9 L303.0,1203.9 L303.2,1201.9 L303.4,1199.9 L303.7,1197.9 L303.9,1195.9 L304.2,1193.9 L304.4,1192.0 L304.7,1190.0 L304.9,1188.0 L305.2,1186.0 L305.4,1184.0 L305.7,1182.0 L305.9,1180.0 L306.2,1178.1 L306.4,1176.1 L306.7,1174.1 L306.9,1172.1 L307.1,1170.1 L307.4,1168.1 L307.6,1166.2 L307.9,1164.2 L308.1,1162.2 L308.4,1160.2 L308.6,1158.2 L308.9,1156.2 L309.1,1154.2 L309.4,1152.3 L309.6,1150.3 L309.9,1148.3 L310.1,1146.3 L310.4,1144.3 L310.6,1142.3 L310.9,1140.4 L311.1,1138.4 L311.4,1136.4 L311.6,1134.4 L311.8,1132.4 L312.1,1130.4 L312.3,1128.4 L312.6,1126.5 L312.8,1124.5 L313.1,1122.5 L313.3,1120.5 L313.6,1118.5 L313.8,1116.5 L314.1,1114.6 L314.3,1112.6 L314.6,1110.6 L314.8,1108.6 L315.1,1106.6 L315.3,1104.6 L315.6,1102.6 L315.8,1100.7 L316.1,1098.7 L316.3,1096.7 L316.6,1094.7 L316.8,1092.7 L317.1,1090.7 L317.3,1088.8 L317.6,1086.8 L317.8,1084.8 L318.1,1082.8 L318.3,1080.8 L318.6,1078.8 L318.8,1076.8 L319.1,1074.9 L319.4,1072.9 L319.7,1070.9 L319.9,1068.9 L320.2,1066.9 L320.5,1065.0 L320.7,1063.0 L321.0,1061.0 L321.3,1059.0 L321.6,1057.0 L321.8,1055.1 L322.1,1053.1 L322.4,1051.1 L322.6,1049.1 L322.9,1047.1 L323.2,1045.1 L323.5,1043.2 L323.7,1041.2 L324.0,1039.2 L324.3,1037.2 L324.6,1035.2 L324.8,1033.3 L325.1,1031.3 L325.4,1029.3 L325.6,1027.3 L325.9,1025.3 L326.2,1023.3 L326.5,1021.4 L326.7,1019.4 L327.0,1017.4 L327.3,1015.4 L327.6,1013.4 L327.8,1011.5 L328.1,1009.5 L328.4,1007.5 L328.6,1005.5 L328.9,1003.5 L329.2,1001.6 L329.5,999.6 L329.7,997.6 L330.0,995.6 L330.3,993.6 L330.5,991.6 L330.8,989.7 L331.1,987.7 L331.3,985.7 L331.6,983.7 L331.9,981.7 L332.1,979.8 L332.4,977.8 L332.7,975.8 L332.9,973.8 L333.2,971.8 L333.5,969.8 L333.7,967.9 L334.0,965.9 L334.3,963.9 L334.5,961.9 L334.8,959.9 L335.0,957.9 L335.3,956.0 L335.5,954.0 L335.8,952.0 L336.0,950.0 L336.2,948.0 L336.5,946.0 L336.7,944.0 L336.9,942.1 L337.2,940.1 L337.4,938.1 L337.7,936.1 L337.9,934.1 L338.1,932.1 L338.4,930.1 L338.6,928.2 L338.8,926.2 L339.1,924.2 L339.3,922.2 L339.5,920.2 L339.8,918.2 L340.0,916.2 L340.3,914.3 L340.5,912.3 L340.8,910.3 L341.0,908.3 L341.3,906.3 L341.5,904.3 L341.8,902.4 L342.1,900.4 L342.4,898.4 L342.6,896.4 L342.9,894.4 L343.2,892.4 L343.5,890.5 L343.7,888.5 L344.0,886.5 L344.3,884.5 L344.6,882.5 L344.8,880.6 L345.1,878.6 L345.4,876.6 L345.7,874.6 L345.9,872.6 L346.2,870.7 L346.5,868.7 L346.8,866.7 L347.1,864.7 L347.4,862.7 L347.7,860.8 L348.0,858.8 L348.3,856.8 L348.6,854.8 L349.0,852.9 L349.3,850.9 L349.6,848.9 L349.9,846.9 L350.3,845.0 L350.6,843.0 L350.9,841.0 L351.2,839.0 L351.5,837.1 L351.7,835.1 L352.0,833.1 L352.3,831.1 L352.5,829.1 L352.8,827.1 L353.0,825.2 L353.3,823.2 L353.5,821.2 L353.8,819.2 L354.1,817.2 L354.3,815.2 L354.6,813.3 L354.8,811.3 L355.1,809.3 L355.4,807.3 L355.6,805.3 L355.9,803.4 L356.2,801.4 L356.5,799.4 L356.8,797.4 L357.1,795.4 L357.4,793.5 L357.7,791.5 L358.1,789.5 L358.4,787.6 L358.8,785.6 L359.1,783.6 L359.4,781.6 L359.8,779.7 L360.2,777.7 L360.6,775.7 L360.9,773.8 L361.3,771.8 L361.7,769.9 L362.1,767.9 L362.5,765.9 L362.9,764.0 L363.4,762.0 L363.8,760.1 L364.3,758.1 L364.8,756.2 L365.3,754.3 L365.9,752.4 L366.4,750.4 L367.0,748.5 L367.6,746.6 L368.1,744.7 L368.7,742.8 L369.3,740.9 L369.9,739.0 L370.5,737.1 L371.2,735.2 L371.8,733.2 L372.4,731.3 L373.0,729.4 L373.6,727.5 L374.2,725.6 L374.9,723.8 L375.6,721.9 L376.4,720.1 L377.2,718.3 L378.2,716.5 L379.2,714.8 L380.2,713.1 L381.2,711.3 L382.2,709.6 L383.2,707.9 L384.3,706.2 L385.3,704.5 L386.3,702.8 L387.4,701.1 L388.4,699.3 L389.4,697.6 L390.5,695.9 L391.5,694.2 L392.5,692.5 L393.5,690.8 L394.6,689.1 L395.6,687.3 L396.6,685.6 L397.7,683.9 L398.7,682.2 L399.7,680.5 L400.8,678.8 L401.9,677.1 L402.9,675.4 L404.0,673.7 L405.1,672.0 L406.1,670.3 L407.2,668.6 L408.3,667.0 L409.4,665.3 L410.5,663.6 L411.6,661.9 L412.7,660.3 L413.8,658.6 L414.9,656.9 L416.0,655.3 L417.1,653.6 L418.2,651.9 L419.3,650.3 L420.4,648.6 L421.5,646.9 L422.6,645.3 L423.7,643.6 L424.8,641.9 L425.9,640.3 L427.0,638.6 L428.2,637.0 L429.4,635.3 L430.5,633.7 L431.7,632.1 L432.8,630.4 L433.9,628.8 L435.1,627.1 L436.2,625.5 L437.3,623.8 L438.3,622.1 L439.4,620.4 L440.5,618.8 L441.6,617.1 L442.6,615.4 L443.7,613.7 L444.7,611.9 L445.7,610.2 L446.6,608.4 L447.6,606.7 L448.5,604.9 L449.4,603.1 L450.3,601.3 L451.0,599.5 L451.6,597.6 L452.2,595.7 L452.7,593.8 L453.2,591.9 L453.6,589.9 L454.1,588.0 L454.5,586.0 L455.0,584.1 L455.4,582.1 L455.9,580.2 L456.3,578.2 L456.8,576.3 L457.2,574.3 L457.6,572.4 L458.0,570.4 L458.3,568.4 L458.7,566.5 L459.0,564.5 L459.3,562.5 L459.6,560.5 L459.8,558.5 L460.1,556.6 L460.4,554.6 L460.7,552.6 L461.0,550.6 L461.3,548.6 L461.5,546.7 L461.8,544.7 L462.1,542.7 L462.4,540.7 L462.6,538.7 L462.9,536.8 L463.1,534.8 L463.4,532.8 L463.6,530.8 L463.8,528.8 L464.1,526.8 L464.3,524.8 L464.6,522.9 L464.8,520.9 L465.0,518.9 L465.3,516.9 L465.5,514.9 L465.7,512.9 L466.0,510.9 L466.2,509.0 L466.5,507.0 L466.7,505.0 L466.9,503.0 L467.2,501.0 L467.4,499.0 L467.6,497.0 L467.8,495.0 L468.1,493.1 L468.3,491.1 L468.5,489.1 L468.7,487.1 L468.9,485.1 L469.2,483.1 L469.4,481.1 L469.6,479.1 L469.8,477.2 L470.0,475.2 L470.3,473.2 L470.5,471.2 L470.7,469.2 L470.9,467.2 L471.1,465.2 L471.3,463.2 L471.6,461.2 L471.8,459.3 L472.0,457.3 L472.2,455.3 L472.4,453.3 L472.7,451.3 L472.9,449.3 L473.1,447.3 L473.4,445.4 L473.6,443.4 L473.9,441.4 L474.1,439.4 L474.4,437.4 L474.6,435.4 L474.9,433.4 L475.1,431.5 L475.4,429.5 L475.6,427.5 L475.9,425.5 L476.1,423.5 L476.4,421.5 L476.6,419.6 L476.9,417.6 L477.1,415.6 L477.3,413.6 L477.6,411.6 L477.8,409.6 L478.1,407.6 L478.3,405.7 L478.5,403.7 L478.7,401.7 L479.0,399.7 L479.2,397.7 L479.4,395.7 L479.6,393.7 L479.8,391.7 L480.1,389.7 L480.3,387.8 L480.5,385.8 L480.7,383.8 L480.9,381.8 L481.2,379.8 L481.4,377.8 L481.6,375.8 L481.8,373.8 L482.1,371.9 L482.3,369.9 L482.5,367.9 L482.7,365.9 L483.0,363.9 L483.2,361.9 L483.4,359.9 L483.7,358.0 L484.0,356.0 L484.3,354.0 L484.6,352.0 L484.9,350.0 L485.2,348.1 L485.5,346.1 L485.8,344.1 L486.1,342.1 L486.4,340.2 L486.7,338.2 L487.0,336.2 L487.3,334.2 L487.6,332.2 L487.9,330.3 L488.2,328.3 L488.5,326.3 L488.8,324.3 L489.1,322.4 L489.4,320.4 L489.7,318.4 L490.0,316.4 L490.3,314.5 L490.7,312.5 L491.0,310.5 L491.4,308.6 L491.8,306.6 L492.1,304.6 L492.5,302.7 L492.9,300.7 L493.2,298.7 L493.6,296.8 L494.0,294.8 L494.4,292.8 L494.7,290.9 L495.1,288.9 L495.5,286.9 L495.9,285.0 L496.2,283.0 L496.6,281.0 L497.0,279.1 L497.4,277.1 L497.8,275.2 L498.2,273.2 L498.6,271.2 L499.0,269.3 L499.5,267.3 L500.0,265.4 L500.5,263.5 L501.1,261.6 L501.9,259.8 L502.7,258.0 L503.6,256.2 L504.5,254.4 L505.5,252.7 L506.6,251.1 L507.8,249.5 L509.1,248.0 L510.4,246.6 L511.9,245.2 L513.4,243.9 L514.9,242.6 L516.5,241.4 L518.1,240.3 L519.8,239.3 L521.5,238.5 L523.4,237.8 L525.3,237.2 L527.2,236.6 L529.1,236.0 L531.0,235.5 L532.9,234.9 L534.9,234.4 L536.8,233.9 L538.7,233.5 L540.7,233.1 L542.7,232.8 L544.7,232.5 L546.6,232.2 L548.6,231.9 L550.6,231.6 L552.6,231.3 L554.5,231.0 L556.5,230.8 L558.5,230.5 L560.5,230.3 L562.5,230.0 L564.5,229.8 L566.5,229.6 L568.4,229.4 L570.4,229.2 L572.4,229.0 L574.4,228.8 L576.4,228.6 L578.4,228.5 L580.4,228.4 L582.4,228.3 L584.4,228.2 L586.4,228.1 L588.4,228.0 L590.4,227.9 L592.4,227.8 L594.4,227.8 L596.4,227.7 L598.4,227.6 L600.4,227.5 L602.4,227.4 L604.4,227.3 L606.4,227.2 L608.4,227.1 L610.4,227.0 L612.4,227.0 L614.4,226.9 L616.4,226.8 L618.4,226.7 L620.4,226.6 L622.4,226.5 L624.4,226.4 L626.4,226.3 L628.4,226.3 L630.4,226.2 L632.4,226.1 L634.3,226.0 L636.3,225.9 L638.3,225.8 L640.3,225.7 L642.3,225.6 L644.3,225.6 L646.3,225.5 L648.3,225.4 L650.3,225.3 L652.3,225.3 L654.3,225.2 L656.3,225.2 L658.3,225.2 L660.3,225.2 L662.3,225.1 L664.3,225.1 L666.3,225.1 L668.3,225.0 L670.3,225.0 L672.3,225.0 L674.3,225.0 L676.3,224.9 L678.3,224.9 L680.3,224.9 L682.3,224.8 L684.3,224.8 L686.3,224.8 L688.3,224.8 L690.3,224.7 L692.3,224.7 L694.3,224.7 L696.3,224.7 L698.3,224.6 L700.3,224.6 L702.3,224.6 L704.3,224.6 L706.3,224.5 L708.3,224.5 L710.3,224.5 L712.3,224.5 L714.3,224.5 L716.3,224.5 L718.3,224.4 L720.3,224.4 L722.3,224.4 L724.3,224.4 L726.3,224.4 L728.3,224.4 L730.3,224.3 L732.3,224.3 L734.3,224.3 L736.3,224.3 L738.3,224.3 L740.3,224.2 L742.3,224.2 L744.3,224.2 L746.3,224.2 L748.3,224.2 L750.3,224.2 L752.3,224.1 L754.3,224.1 L756.3,224.1 L758.3,224.1 L760.3,224.1 L762.3,224.1 L764.3,224.1 L766.3,224.1 L768.3,224.1 L770.3,224.1 L772.3,224.1 L774.3,224.1 L776.3,224.1 L778.3,224.1 L780.3,224.2 L782.3,224.2 L784.3,224.2 L786.3,224.2 L788.3,224.2 L790.3,224.2 L792.3,224.2 L794.3,224.2 L796.3,224.2 L798.3,224.2 L800.3,224.2 L802.3,224.2 L804.3,224.2 L806.3,224.2 L808.3,224.2 L810.3,224.2 L812.3,224.2 L814.3,224.2 L816.3,224.2 L818.3,224.2 L820.3,224.2 L822.3,224.2 L824.3,224.2 L826.3,224.2 L828.3,224.3 L830.3,224.3 L832.3,224.3 L834.3,224.3 L836.3,224.3 L838.3,224.3 L840.3,224.3 L842.3,224.3 L844.3,224.3 L846.3,224.3 L848.3,224.3 L850.3,224.3 L852.3,224.3 L854.3,224.3 L856.3,224.4 L858.3,224.4 L860.3,224.4 L862.3,224.4 L864.3,224.4 L866.3,224.5 L868.3,224.5 L870.3,224.5 L872.3,224.5 L874.3,224.5 L876.3,224.5 L878.3,224.6 L880.3,224.6 L882.3,224.6 L884.3,224.6 L886.3,224.6 L888.3,224.7 L890.3,224.7 L892.3,224.7 L894.3,224.7 L896.3,224.7 L898.3,224.8 L900.3,224.8 L902.3,224.8 L904.3,224.8 L906.3,224.8 L908.3,224.9 L910.3,224.9 L912.3,224.9 L914.3,224.9 L916.3,224.9 L918.3,224.9 L920.3,225.0 L922.3,225.0 L924.3,225.0 L926.3,225.0 L928.3,225.0 L930.3,225.1 L932.3,225.1 L934.3,225.1 L936.3,225.1 L938.3,225.1 L940.3,225.2 L942.3,225.2 L944.3,225.2 L946.3,225.2 L948.3,225.3 L950.3,225.3 L952.3,225.4 L954.3,225.4 L956.3,225.5 L958.3,225.5 L960.3,225.6 L962.3,225.6 L964.3,225.7 L966.3,225.7 L968.3,225.8 L970.3,225.8 L972.3,225.8 L974.3,225.9 L976.3,225.9 L978.3,226.0 L980.3,226.0 L982.3,226.1 L984.3,226.1 L986.3,226.2 L988.3,226.2 L990.3,226.3 L992.3,226.3 L994.3,226.4 L996.3,226.4 L998.3,226.5 L1000.3,226.6 L1002.3,226.7 L1004.3,226.8 L1006.3,226.9 L1008.3,227.0 L1010.3,227.1 L1012.3,227.2 L1014.3,227.3 L1016.3,227.4 L1018.3,227.6 L1020.3,227.7 L1022.3,227.8 L1024.3,227.9 L1026.3,228.0 L1028.3,228.1 L1030.3,228.2 L1032.3,228.4 L1034.3,228.5 L1036.3,228.6 L1038.3,228.7 L1040.3,228.9 L1042.2,229.0 L1044.2,229.2 L1046.2,229.4 L1048.2,229.6 L1050.2,229.8 L1052.2,229.9 L1054.2,230.1 L1056.2,230.3 L1058.2,230.5 L1060.2,230.7 L1062.2,230.9 L1064.2,231.1 L1066.1,231.3 L1068.1,231.5 L1070.1,231.7 L1072.1,231.9 L1074.1,232.1 L1076.1,232.4 L1078.1,232.6 L1080.1,232.9 L1082.0,233.1 L1084.0,233.4 L1086.0,233.7 L1088.0,234.0 L1089.9,234.4 L1091.9,234.8 L1093.8,235.2 L1095.8,235.7 L1097.7,236.1 L1099.7,236.6 L1101.6,237.1 L1103.5,237.6 L1105.5,238.1 L1107.4,238.7 L1109.2,239.4 L1111.1,240.1 L1112.9,240.9 L1114.7,241.7 L1116.6,242.6 L1118.3,243.4 L1120.1,244.4 L1121.8,245.4 L1123.4,246.6 L1124.9,247.8 L1126.5,249.1 L1127.9,250.4 L1129.4,251.8 L1130.8,253.2 L1132.2,254.6 L1133.5,256.2 L1134.7,257.7 L1135.9,259.3 L1137.0,261.0 L1138.0,262.7 L1138.9,264.4 L1139.7,266.2 L1140.6,268.1 L1141.3,269.9 L1142.1,271.8 L1142.9,273.6 L1143.6,275.5 L1144.4,277.3 L1145.1,279.2 L1145.9,281.0 L1146.6,282.9 L1147.3,284.7 L1148.1,286.6 L1148.8,288.5 L1149.5,290.3 L1150.2,292.2 L1150.8,294.1 L1151.4,296.0 L1151.9,297.9 L1152.4,299.9 L1152.8,301.8 L1153.2,303.8 L1153.6,305.7 L1154.0,307.7 L1154.4,309.7 L1154.8,311.6 L1155.2,313.6 L1155.6,315.5 L1156.0,317.5 L1156.4,319.5 L1156.8,321.4 L1157.2,323.4 L1157.5,325.3 L1157.9,327.3 L1158.3,329.3 L1158.7,331.2 L1159.0,333.2 L1159.4,335.2 L1159.7,337.2 L1160.0,339.1 L1160.3,341.1 L1160.7,343.1 L1161.0,345.0 L1161.3,347.0 L1161.7,349.0 L1162.0,351.0 L1162.3,352.9 L1162.6,354.9 L1163.0,356.9 L1163.3,358.9 L1163.6,360.8 L1163.9,362.8 L1164.3,364.8 L1164.6,366.8 L1164.9,368.7 L1165.3,370.7 L1165.6,372.7 L1165.9,374.6 L1166.2,376.6 L1166.5,378.6 L1166.8,380.6 L1167.1,382.5 L1167.4,384.5 L1167.7,386.5 L1168.0,388.5 L1168.3,390.5 L1168.6,392.4 L1168.8,394.4 L1169.1,396.4 L1169.4,398.4 L1169.7,400.4 L1170.0,402.4 L1170.2,404.3 L1170.5,406.3 L1170.8,408.3 L1171.1,410.3 L1171.3,412.3 L1171.6,414.2 L1171.9,416.2 L1172.2,418.2 L1172.5,420.2 L1172.7,422.2 L1173.0,424.1 L1173.3,426.1 L1173.6,428.1 L1173.9,430.1 L1174.1,432.1 L1174.4,434.0 L1174.7,436.0 L1175.0,438.0 L1175.3,440.0 L1175.5,442.0 L1175.8,443.9 L1176.1,445.9 L1176.4,447.9 L1176.7,449.9 L1176.9,451.9 L1177.2,453.8 L1177.5,455.8 L1177.8,457.8 L1178.0,459.8 L1178.3,461.8 L1178.6,463.7 L1178.9,465.7 L1179.2,467.7 L1179.4,469.7 L1179.7,471.7 L1180.0,473.6 L1180.3,475.6 L1180.6,477.6 L1180.8,479.6 L1181.1,481.6 L1181.4,483.6 L1181.7,485.5 L1182.0,487.5 L1182.2,489.5 L1182.5,491.5 L1182.8,493.5 L1183.1,495.4 L1183.4,497.4 L1183.6,499.4 L1183.9,501.4 L1184.2,503.4 L1184.5,505.3 L1184.8,507.3 L1185.0,509.3 L1185.3,511.3 L1185.6,513.3 L1185.9,515.2 L1186.1,517.2 L1186.4,519.2 L1186.7,521.2 L1187.0,523.2 L1187.3,525.1 L1187.5,527.1 L1187.8,529.1 L1188.1,531.1 L1188.4,533.1 L1188.7,535.0 L1188.9,537.0 L1189.2,539.0 L1189.5,541.0 L1189.8,543.0 L1190.1,544.9 L1190.3,546.9 L1190.6,548.9 L1190.9,550.9 L1191.2,552.9 L1191.5,554.8 L1191.7,556.8 L1192.0,558.8 L1192.3,560.8 L1192.6,562.8 L1192.9,564.8 L1193.1,566.7 L1193.4,568.7 L1193.7,570.7 L1194.0,572.7 L1194.2,574.7 L1194.5,576.6 L1194.8,578.6 L1195.1,580.6 L1195.3,582.6 L1195.6,584.6 L1195.9,586.5 L1196.2,588.5 L1196.4,590.5 L1196.7,592.5 L1197.0,594.5 L1197.2,596.5 L1197.5,598.4 L1197.8,600.4 L1198.0,602.4 L1198.3,604.4 L1198.6,606.4 L1198.9,608.3 L1199.1,610.3 L1199.4,612.3 L1199.7,614.3 L1199.9,616.3 L1200.2,618.3 L1200.5,620.2 L1200.7,622.2 L1201.0,624.2 L1201.3,626.2 L1201.5,628.2 L1201.8,630.1 L1202.1,632.1 L1202.4,634.1 L1202.6,636.1 L1202.9,638.1 L1203.2,640.1 L1203.4,642.0 L1203.7,644.0 L1204.0,646.0 L1204.2,648.0 L1204.5,650.0 L1204.8,651.9 L1205.1,653.9 L1205.3,655.9 L1205.6,657.9 L1205.9,659.9 L1206.1,661.9 L1206.4,663.8 L1206.7,665.8 L1206.9,667.8 L1207.2,669.8 L1207.5,671.8 L1207.7,673.7 L1208.0,675.7 L1208.3,677.7 L1208.6,679.7 L1208.8,681.7 L1209.1,683.6 L1209.4,685.6 L1209.7,687.6 L1210.0,689.6 L1210.3,691.6 L1210.6,693.5 L1210.8,695.5 L1211.1,697.5 L1211.4,699.5 L1211.7,701.5 L1212.0,703.4 L1212.3,705.4 L1212.5,707.4 L1212.8,709.4 L1213.1,711.4 L1213.4,713.3 L1213.7,715.3 L1214.0,717.3 L1214.3,719.3 L1214.5,721.3 L1214.8,723.2 L1215.1,725.2 L1215.4,727.2 L1215.7,729.2 L1216.0,731.2 L1216.3,733.1 L1216.5,735.1 L1216.8,737.1 L1217.1,739.1 L1217.4,741.1 L1217.7,743.0 L1218.0,745.0 L1218.2,747.0 L1218.5,749.0 L1218.8,751.0 L1219.1,752.9 L1219.4,754.9 L1219.7,756.9 L1220.0,758.9 L1220.2,760.9 L1220.5,762.8 L1220.8,764.8 L1221.1,766.8 L1221.4,768.8 L1221.7,770.8 L1222.0,772.7 L1222.2,774.7 L1222.5,776.7 L1222.8,778.7 L1223.1,780.6 L1223.4,782.6 L1223.7,784.6 L1224.1,786.6 L1224.4,788.5 L1224.7,790.5 L1225.0,792.5 L1225.3,794.5 L1225.7,796.4 L1226.0,798.4 L1226.3,800.4 L1226.6,802.4 L1226.9,804.3 L1227.3,806.3 L1227.6,808.3 L1227.9,810.3 L1228.2,812.2 L1228.6,814.2 L1228.9,816.2 L1229.2,818.2 L1229.6,820.1 L1229.9,822.1 L1230.2,824.1 L1230.6,826.0 L1230.9,828.0 L1231.3,830.0 L1231.6,832.0 L1232.0,833.9 L1232.3,835.9 L1232.6,837.9 L1233.0,839.8 L1233.3,841.8 L1233.7,843.8 L1234.0,845.7 L1234.4,847.7 L1234.7,849.7 L1235.1,851.6 L1235.5,853.6 L1235.8,855.6 L1236.2,857.5 L1236.6,859.5 L1237.0,861.5 L1237.3,863.4 L1237.7,865.4 L1238.1,867.4 L1238.5,869.3 L1238.8,871.3 L1239.2,873.3 L1239.6,875.2 L1240.0,877.2 L1240.3,879.2 L1240.7,881.1 L1241.2,883.1 L1241.6,885.0 L1242.1,887.0 L1242.6,888.9 L1243.1,890.8 L1243.6,892.8 L1244.1,894.7 L1244.6,896.6 L1245.1,898.6 L1245.6,900.5 L1246.1,902.4 L1246.7,904.3 L1247.4,906.2 L1248.1,908.0 L1249.0,909.9 L1249.9,911.6 L1250.8,913.4 L1251.7,915.2 L1252.7,916.9 L1253.7,918.6 L1254.8,920.2 L1256.0,921.7 L1257.4,923.1 L1258.9,924.4 L1260.4,925.7 L1262.0,926.9 L1263.6,928.1 L1265.2,929.2 L1266.9,930.3 L1268.6,931.4 L1270.3,932.4 L1272.0,933.4 L1273.8,934.3 L1275.6,935.1 L1277.4,936.0 L1279.2,936.9 L1281.0,937.7 L1282.9,938.5 L1284.7,939.4 L1286.5,940.2 L1288.3,941.0 L1290.2,941.8 L1292.0,942.5 L1293.9,943.2 L1295.8,943.9 L1297.7,944.5 L1299.6,945.2 L1301.4,945.8 L1303.3,946.5 L1305.2,947.2 L1307.1,947.9 L1309.0,948.5 L1310.9,949.2 L1312.7,949.9 L1314.6,950.6 L1316.5,951.3 L1318.4,952.0 L1320.3,952.6 L1322.1,953.3 L1324.0,954.0 L1325.9,954.7 L1327.8,955.4 L1329.6,956.1 L1331.5,956.9 L1333.3,957.7 L1335.1,958.6 L1336.9,959.5 L1338.6,960.4 L1340.4,961.3 L1342.2,962.2 L1344.0,963.2 L1345.8,964.1 L1347.5,965.0 L1349.3,965.9 L1351.1,966.8 L1352.8,967.8 L1354.6,968.7 L1356.3,969.7 L1358.0,970.8 L1359.6,972.0 L1361.1,973.2 L1362.6,974.5 L1364.0,975.9 L1365.5,977.3 L1366.9,978.7 L1368.2,980.2 L1369.5,981.7 L1370.7,983.2 L1371.8,984.9 L1372.7,986.6 L1373.5,988.4 L1374.2,990.2 L1374.9,992.1 L1375.6,994.0 L1376.2,995.9 L1376.8,997.8 L1377.3,999.7 L1377.7,1001.6 L1378.0,1003.6 L1378.3,1005.6 L1378.5,1007.6 L1378.7,1009.6 L1378.8,1011.6 L1379.0,1013.5 L1379.2,1015.5 L1379.4,1017.5 L1379.6,1019.5 L1379.7,1021.5 L1379.9,1023.5 L1380.1,1025.5 L1380.3,1027.5 L1380.5,1029.5 L1380.6,1031.5 L1380.8,1033.5 L1381.0,1035.5 L1381.2,1037.5 L1381.4,1039.4 L1381.5,1041.4 L1381.7,1043.4 L1381.9,1045.4 L1382.1,1047.4 L1382.3,1049.4 L1382.5,1051.4 L1382.7,1053.4 L1382.9,1055.4 L1383.1,1057.4 L1383.3,1059.4 L1383.5,1061.3 L1383.7,1063.3 L1383.9,1065.3 L1384.1,1067.3 L1384.3,1069.3 L1384.5,1071.3 L1384.6,1073.3 L1384.8,1075.3 L1385.0,1077.3 L1385.2,1079.3 L1385.4,1081.2 L1385.6,1083.2 L1385.9,1085.2 L1386.1,1087.2 L1386.3,1089.2 L1386.5,1091.2 L1386.7,1093.2 L1386.9,1095.2 L1387.1,1097.2 L1387.3,1099.1 L1387.5,1101.1 L1387.7,1103.1 L1387.9,1105.1 L1388.1,1107.1 L1388.4,1109.1 L1388.6,1111.1 L1388.8,1113.1 L1389.0,1115.1 L1389.2,1117.1 L1389.4,1119.0 L1389.6,1121.0 L1389.8,1123.0 L1390.0,1125.0 L1390.3,1127.0 L1390.5,1129.0 L1390.7,1131.0 L1390.9,1133.0 L1391.1,1135.0 L1391.3,1136.9 L1391.5,1138.9 L1391.7,1140.9 L1392.0,1142.9 L1392.2,1144.9 L1392.4,1146.9 L1392.6,1148.9 L1392.8,1150.9 L1393.0,1152.8 L1393.2,1154.8 L1393.5,1156.8 L1393.7,1158.8 L1393.9,1160.8 L1394.1,1162.8 L1394.3,1164.8 L1394.6,1166.8 L1394.8,1168.8 L1395.0,1170.7 L1395.2,1172.7 L1395.5,1174.7 L1395.7,1176.7 L1395.9,1178.7 L1396.1,1180.7 L1396.3,1182.7 L1396.6,1184.7 L1396.8,1186.6 L1397.0,1188.6 L1397.2,1190.6 L1397.5,1192.6 L1397.7,1194.6 L1397.9,1196.6 L1398.1,1198.6 L1398.4,1200.6 L1398.6,1202.5 L1398.8,1204.5 L1399.0,1206.5 L1399.3,1208.5 L1399.5,1210.5 L1399.7,1212.5 L1399.9,1214.5 L1400.2,1216.5 L1400.4,1218.4 L1400.6,1220.4 L1400.8,1222.4 L1401.0,1224.4 L1401.3,1226.4 L1401.5,1228.4 L1401.7,1230.4 L1401.9,1232.4 L1402.2,1234.3 L1402.4,1236.3 L1402.6,1238.3 L1402.9,1240.3 L1403.1,1242.3 L1403.3,1244.3 L1403.6,1246.3 L1403.8,1248.2 L1404.1,1250.2 L1404.3,1252.2 L1404.5,1254.2 L1404.8,1256.2 L1405.0,1258.2 L1405.3,1260.2 L1405.5,1262.1 L1405.8,1264.1 L1406.0,1266.1 L1406.2,1268.1 L1406.5,1270.1 L1406.7,1272.1 L1407.0,1274.1 L1407.2,1276.0 L1407.5,1278.0 L1407.7,1280.0 L1407.9,1282.0 L1408.2,1284.0 L1408.4,1286.0 L1408.7,1288.0 L1408.9,1289.9 L1409.2,1291.9 L1409.4,1293.9 L1409.6,1295.9 L1409.9,1297.9 L1410.1,1299.9 L1410.4,1301.8 L1410.6,1303.8 L1410.9,1305.8 L1411.1,1307.8 L1411.3,1309.8 L1411.6,1311.8 L1411.8,1313.8 L1412.1,1315.7 L1412.3,1317.7 L1412.6,1319.7 L1412.8,1321.7 L1413.1,1323.7 L1413.4,1325.7 L1413.6,1327.6 L1413.9,1329.6 L1414.2,1331.6 L1414.5,1333.6 L1414.7,1335.6 L1415.0,1337.6 L1415.3,1339.5 L1415.5,1341.5 L1415.8,1343.5 L1416.1,1345.5 L1416.3,1347.5 L1416.6,1349.4 L1416.9,1351.4 L1417.2,1353.4 L1417.5,1355.4 L1417.8,1357.3 L1418.2,1359.3 L1418.5,1361.3 L1418.8,1363.3 L1419.1,1365.2 L1419.5,1367.2 L1419.8,1369.2 L1420.1,1371.2 L1420.4,1373.1 L1420.8,1375.1 L1421.1,1377.1 L1421.4,1379.1 L1421.8,1381.0 L1422.1,1383.0 L1422.5,1385.0 L1422.9,1386.9 L1423.3,1388.9 L1423.7,1390.8 L1424.2,1392.8 L1424.6,1394.7 L1425.1,1396.7 L1425.5,1398.6 L1426.0,1400.6 L1426.4,1402.5 L1426.9,1404.5 L1427.4,1406.4 L1427.9,1408.3 L1428.4,1410.3 L1429.0,1412.2 L1429.6,1414.1 L1430.3,1416.0 L1430.9,1417.8 L1431.6,1419.7 L1432.4,1421.5 L1433.2,1423.3 L1434.2,1425.1 L1435.2,1426.8 L1436.3,1428.4 L1437.5,1430.0 L1438.8,1431.5 L1440.2,1432.9 L1441.6,1434.3 L1443.1,1435.5 L1444.7,1436.7 L1446.4,1437.7 L1448.1,1438.7 L1449.9,1439.5 L1451.8,1440.2 L1453.7,1440.9 L1455.6,1441.4 L1457.5,1442.0 L1459.4,1442.4 L1461.4,1442.9 L1463.3,1443.2 L1465.3,1443.6 L1467.3,1443.9 L1469.3,1444.2 L1471.2,1444.5 L1473.2,1444.8 L1475.2,1445.1 L1477.2,1445.4 L1479.1,1445.6 L1481.1,1445.9 L1483.1,1446.1 L1485.1,1446.3 L1487.1,1446.4 L1489.1,1446.6 L1491.1,1446.8 L1493.1,1447.0 L1495.1,1447.1 L1497.1,1447.3 L1499.1,1447.5 L1501.1,1447.6 L1503.0,1447.8 L1505.0,1448.0 L1507.0,1448.1 L1509.0,1448.3 L1511.0,1448.5 L1513.0,1448.6 L1515.0,1448.8 L1517.0,1448.9 L1519.0,1449.1 L1521.0,1449.2 L1523.0,1449.3 L1525.0,1449.3 L1527.0,1449.4 L1529.0,1449.4 L1531.0,1449.5 L1533.0,1449.5 L1535.0,1449.5 L1537.0,1449.5 L1539.0,1449.6 L1541.0,1449.6 L1543.0,1449.6 L1545.0,1449.7 L1547.0,1449.7 L1549.0,1449.7 L1551.0,1449.8 L1553.0,1449.8 L1555.0,1449.8 L1557.0,1449.8 L1559.0,1449.9 L1561.0,1449.9 L1563.0,1449.9 L1565.0,1449.9 L1567.0,1449.9 L1569.0,1449.9 L1571.0,1449.9 L1573.0,1450.0 L1575.0,1450.0 L1577.0,1450.0 L1579.0,1450.0 L1581.0,1450.0 L1583.0,1450.0 L1585.0,1450.0 L1587.0,1450.0 L1589.0,1450.0 L1591.0,1450.0 L1593.0,1450.0 L1595.0,1450.0 L1597.0,1450.0 L1599.0,1450.1 L1601.0,1450.1 L1603.0,1450.1 L1605.0,1450.1 L1607.0,1450.1 L1609.0,1450.1 L1611.0,1450.1 L1613.0,1450.1 L1615.0,1450.1 L1617.0,1450.1 L1619.0,1450.1 L1621.0,1450.1 L1623.0,1450.2 L1625.0,1450.2 L1627.0,1450.2 L1629.0,1450.2 L1631.0,1450.2 L1633.0,1450.2 L1635.0,1450.2 L1637.0,1450.2 L1639.0,1450.2 L1641.0,1450.2 L1643.0,1450.2 L1645.0,1450.2 L1647.0,1450.2 L1649.0,1450.2 L1651.0,1450.2 L1653.0,1450.2 L1655.0,1450.2 L1657.0,1450.2 L1659.0,1450.2 L1661.0,1450.2 L1663.0,1450.2 L1665.0,1450.2 L1667.0,1450.2 L1669.0,1450.2 L1671.0,1450.2 L1673.0,1450.2 L1675.0,1450.2 L1677.0,1450.3 L1679.0,1450.3 L1681.0,1450.3 L1683.0,1450.3 L1685.0,1450.3 L1687.0,1450.3 L1689.0,1450.3 L1691.0,1450.3 L1693.0,1450.3 L1695.0,1450.3 L1697.0,1450.3 L1699.0,1450.3 L1701.0,1450.3 L1703.0,1450.3 L1705.0,1450.3 L1707.0,1450.3 L1709.0,1450.3 L1711.0,1450.3 L1713.0,1450.3 L1715.0,1450.3 L1717.0,1450.3 L1719.0,1450.3 L1721.0,1450.3 L1723.0,1450.3 L1725.0,1450.3 L1727.0,1450.3 L1729.0,1450.3 L1731.0,1450.3 L1733.0,1450.3 L1735.0,1450.3 L1737.0,1450.3 L1739.0,1450.3 L1741.0,1450.3 L1743.0,1450.3 L1745.0,1450.3 L1747.0,1450.3 L1749.0,1450.3 L1751.0,1450.3 L1753.0,1450.3 L1755.0,1450.3 L1757.0,1450.3 L1759.0,1450.4 L1761.0,1450.4 L1763.0,1450.4 L1765.0,1450.4 L1767.0,1450.4 L1769.0,1450.4 L1771.0,1450.4 L1773.0,1450.4 L1775.0,1450.4 L1777.0,1450.4 L1779.0,1450.4 L1781.0,1450.4 L1783.0,1450.4 L1785.0,1450.4 L1787.0,1450.4 L1789.0,1450.4 L1791.0,1450.4 L1793.0,1450.4 L1795.0,1450.4 L1797.0,1450.4 L1799.0,1450.4 L1801.0,1450.4 L1803.0,1450.4 L1805.0,1450.4 L1807.0,1450.4 L1809.0,1450.4 L1811.0,1450.4 L1813.0,1450.4 L1815.0,1450.4 L1817.0,1450.4 L1819.0,1450.4 L1821.0,1450.4 L1823.0,1450.4 L1825.0,1450.4 L1827.0,1450.4 L1829.0,1450.4 L1831.0,1450.4 L1833.0,1450.4 L1835.0,1450.4 L1837.0,1450.4 L1839.0,1450.4 L1841.0,1450.4 L1843.0,1450.4 L1845.0,1450.4 L1847.0,1450.4 L1849.0,1450.4 L1851.0,1450.4 L1853.0,1450.4 L1855.0,1450.4 L1857.0,1450.4 L1859.0,1450.4 L1861.0,1450.4 L1863.0,1450.4 L1865.0,1450.4 L1867.0,1450.4 L1869.0,1450.4 L1871.0,1450.4 L1873.0,1450.4 L1875.0,1450.4 L1877.0,1450.4 L1879.0,1450.4 L1881.0,1450.4 L1883.0,1450.5 L1885.0,1450.5 L1887.0,1450.5 L1889.0,1450.5 L1891.0,1450.5 L1893.0,1450.5 L1895.0,1450.5 L1897.0,1450.5 L1899.0,1450.5 L1901.0,1450.5 L1903.0,1450.5 L1905.0,1450.5 L1907.0,1450.5 L1909.0,1450.5 L1911.0,1450.5 L1913.0,1450.5 L1915.0,1450.5 L1917.0,1450.5 L1919.0,1450.5 L1921.0,1450.5 L1923.0,1450.5 L1925.0,1450.5 L1927.0,1450.5 L1929.0,1450.5 L1931.0,1450.5 L1933.0,1450.5 L1935.0,1450.5 L1937.0,1450.5 L1939.0,1450.5 L1941.0,1450.5 L1943.0,1450.5 L1945.0,1450.5 L1947.0,1450.5 L1949.0,1450.5 L1951.0,1450.5 L1953.0,1450.5 L1955.0,1450.5 L1956.9,1450.5 L1958.7,1450.5 L1960.2,1450.5 L1961.4,1450.5"/>
</g>
<g stroke="#000" stroke-width="3" stroke-dasharray="11 10">
<line x1="757.5" y1="105" x2="757.5" y2="1607"/>
<line x1="1086.5" y1="101" x2="1086.5" y2="1604"/>
</g>
<g stroke="#000" stroke-width="7" fill="none">
<rect x="272.5" y="47.5" width="1959.5" height="1578"/>
<path d="M241.0,1625.5H272.5 M256.0,1537.8H272.5 M241.0,1450.2H272.5 M256.0,1362.5H272.5 M241.0,1274.8H272.5 M256.0,1187.2H272.5 M241.0,1099.5H272.5 M256.0,1011.8H272.5 M241.0,924.2H272.5 M256.0,836.5H272.5 M241.0,748.8H272.5 M256.0,661.2H272.5 M241.0,573.5H272.5 M256.0,485.8H272.5 M241.0,398.2H272.5 M256.0,310.5H272.5 M241.0,222.8H272.5 M256.0,135.2H272.5 M241.0,47.5H272.5 M272.5,1625.5V1657.0 M395.0,1625.5V1642.0 M517.4,1625.5V1657.0 M639.9,1625.5V1642.0 M762.4,1625.5V1657.0 M884.8,1625.5V1642.0 M1007.3,1625.5V1657.0 M1129.8,1625.5V1642.0 M1252.2,1625.5V1657.0 M1374.7,1625.5V1642.0 M1497.2,1625.5V1657.0 M1619.7,1625.5V1642.0 M1742.1,1625.5V1657.0 M1864.6,1625.5V1642.0 M1987.1,1625.5V1657.0 M2109.5,1625.5V1642.0 M2232.0,1625.5V1657.0" stroke-linecap="butt"/>
</g>
<rect x="1242.9" y="65.5" width="965.4" height="374.5" fill="none" stroke="#000" stroke-width="3"/>
<g stroke-width="12.6">
<line x1="1252" y1="117.5" x2="1418" y2="117.5" stroke="#515151"/>
<line x1="1252" y1="208" x2="1418" y2="208" stroke="#EF4040"/>
<line x1="1252" y1="298" x2="1418" y2="298" stroke="#1A70DF"/>
</g>
<g font-family="'Liberation Serif', 'Noto Serif CJK SC', serif" fill="#000" stroke="#fff" stroke-width="1.1">
<text y="146.2" font-size="85.5" ><tspan x="1456.8" y="146.2" textLength="42.8" lengthAdjust="spacingAndGlyphs">S</tspan><tspan x="1500.3" y="146.2" textLength="38.3" lengthAdjust="spacingAndGlyphs">A</tspan><tspan x="1538.1" y="121.1" font-size="24.0" stroke="none" textLength="44.8" lengthAdjust="spacingAndGlyphs">-</tspan><tspan x="1581.2" y="146.2" textLength="41.7" lengthAdjust="spacingAndGlyphs">P</tspan><tspan x="1623.6" y="146.2" textLength="38.3" lengthAdjust="spacingAndGlyphs">A</tspan><tspan x="1661.4" y="121.1" font-size="24.0" stroke="none" textLength="44.8" lengthAdjust="spacingAndGlyphs">-</tspan><tspan x="1705.6" y="146.2" textLength="40.9" lengthAdjust="spacingAndGlyphs">L</tspan><tspan x="1746.9" y="146.2" textLength="38.3" lengthAdjust="spacingAndGlyphs">A</tspan></text>
<text y="235.8" font-size="85.5" ><tspan x="1456.8" y="235.8" textLength="42.8" lengthAdjust="spacingAndGlyphs">S</tspan><tspan x="1500.3" y="235.8" textLength="38.3" lengthAdjust="spacingAndGlyphs">A</tspan><tspan x="1538.1" y="210.7" font-size="24.0" stroke="none" textLength="44.8" lengthAdjust="spacingAndGlyphs">-</tspan><tspan x="1581.2" y="235.8" textLength="41.7" lengthAdjust="spacingAndGlyphs">P</tspan><tspan x="1623.6" y="235.8" textLength="38.3" lengthAdjust="spacingAndGlyphs">A</tspan><tspan x="1661.4" y="210.7" font-size="24.0" stroke="none" textLength="44.8" lengthAdjust="spacingAndGlyphs">-</tspan><tspan x="1705.6" y="235.8" textLength="40.9" lengthAdjust="spacingAndGlyphs">L</tspan><tspan x="1746.9" y="235.8" textLength="38.3" lengthAdjust="spacingAndGlyphs">A</tspan><tspan x="1792.8" y="241.1" font-size="103.9" textLength="28.9" lengthAdjust="spacingAndGlyphs">/</tspan><tspan x="1829.4" y="235.8" textLength="39.2" lengthAdjust="spacingAndGlyphs">E</tspan><tspan x="1868.3" y="235.8" textLength="41.6" lengthAdjust="spacingAndGlyphs">G</tspan><tspan x="1916.1" y="241.1" font-size="103.9" textLength="28.9" lengthAdjust="spacingAndGlyphs">/</tspan><tspan x="1951.2" y="235.8" textLength="41.8" lengthAdjust="spacingAndGlyphs">C</tspan><tspan x="1991.8" y="235.8" textLength="42.3" lengthAdjust="spacingAndGlyphs">F</tspan></text>
<text y="327.5" font-size="85.5" ><tspan x="1472.7" y="317.5" font-size="78.2" textLength="24.5" lengthAdjust="spacingAndGlyphs">(</tspan><tspan x="1497.9" y="327.5" textLength="42.8" lengthAdjust="spacingAndGlyphs">S</tspan><tspan x="1541.4" y="327.5" textLength="38.3" lengthAdjust="spacingAndGlyphs">A</tspan><tspan x="1579.2" y="302.4" font-size="24.0" stroke="none" textLength="44.8" lengthAdjust="spacingAndGlyphs">-</tspan><tspan x="1622.3" y="327.5" textLength="41.7" lengthAdjust="spacingAndGlyphs">P</tspan><tspan x="1664.7" y="327.5" textLength="38.3" lengthAdjust="spacingAndGlyphs">A</tspan><tspan x="1702.5" y="302.4" font-size="24.0" stroke="none" textLength="44.8" lengthAdjust="spacingAndGlyphs">-</tspan><tspan x="1746.7" y="327.5" textLength="40.9" lengthAdjust="spacingAndGlyphs">L</tspan><tspan x="1788.0" y="327.5" textLength="38.3" lengthAdjust="spacingAndGlyphs">A</tspan><tspan x="1833.9" y="332.8" font-size="103.9" textLength="28.9" lengthAdjust="spacingAndGlyphs">/</tspan><tspan x="1870.5" y="327.5" textLength="39.2" lengthAdjust="spacingAndGlyphs">E</tspan><tspan x="1909.4" y="327.5" textLength="41.6" lengthAdjust="spacingAndGlyphs">G</tspan><tspan x="1957.2" y="332.8" font-size="103.9" textLength="28.9" lengthAdjust="spacingAndGlyphs">/</tspan><tspan x="1992.3" y="327.5" textLength="41.8" lengthAdjust="spacingAndGlyphs">C</tspan><tspan x="2032.9" y="327.5" textLength="42.3" lengthAdjust="spacingAndGlyphs">F</tspan><tspan x="2076.9" y="317.5" font-size="78.2" textLength="24.5" lengthAdjust="spacingAndGlyphs">)</tspan></text>
<text y="417.6" font-size="85.5" ><tspan x="1416.3" y="417.6" textLength="41.8" lengthAdjust="spacingAndGlyphs">+</tspan><tspan x="1459.2" y="417.6" textLength="38.3" lengthAdjust="spacingAndGlyphs">A</tspan><tspan x="1507.6" y="417.6" textLength="23.8" lengthAdjust="spacingAndGlyphs">l</tspan><tspan x="1544.5" y="417.6" textLength="32.4" lengthAdjust="spacingAndGlyphs">u</tspan><tspan x="1581.1" y="417.6" textLength="41.0" lengthAdjust="spacingAndGlyphs">m</tspan><tspan x="1630.8" y="417.6" textLength="23.8" lengthAdjust="spacingAndGlyphs">i</tspan><tspan x="1665.1" y="417.6" textLength="36.9" lengthAdjust="spacingAndGlyphs">n</tspan><tspan x="1708.9" y="417.6" textLength="32.4" lengthAdjust="spacingAndGlyphs">u</tspan><tspan x="1745.5" y="417.6" textLength="41.0" lengthAdjust="spacingAndGlyphs">m</tspan> <tspan x="1831.8" y="417.6" textLength="33.2" lengthAdjust="spacingAndGlyphs">h</tspan><tspan x="1870.0" y="417.6" textLength="38.8" lengthAdjust="spacingAndGlyphs">o</tspan><tspan x="1911.7" y="417.6" textLength="36.9" lengthAdjust="spacingAndGlyphs">n</tspan><tspan x="1952.4" y="417.6" textLength="37.9" lengthAdjust="spacingAndGlyphs">e</tspan><tspan x="1991.1" y="417.6" textLength="42.5" lengthAdjust="spacingAndGlyphs">y</tspan><tspan x="2035.3" y="417.6" textLength="36.5" lengthAdjust="spacingAndGlyphs">c</tspan><tspan x="2075.5" y="417.6" textLength="38.8" lengthAdjust="spacingAndGlyphs">o</tspan><tspan x="2115.4" y="417.6" textLength="41.0" lengthAdjust="spacingAndGlyphs">m</tspan><tspan x="2161.3" y="417.6" textLength="34.3" lengthAdjust="spacingAndGlyphs">b</tspan></text>
<text y="1430.1" font-size="85.5" ><tspan x="299.9" y="1430.1" textLength="37.9" lengthAdjust="spacingAndGlyphs">R</tspan><tspan x="342.5" y="1430.1" textLength="34.6" lengthAdjust="spacingAndGlyphs">a</tspan><tspan x="384.2" y="1430.1" textLength="37.0" lengthAdjust="spacingAndGlyphs">p</tspan><tspan x="430.9" y="1430.1" textLength="23.8" lengthAdjust="spacingAndGlyphs">i</tspan><tspan x="465.8" y="1430.1" textLength="34.6" lengthAdjust="spacingAndGlyphs">a</tspan></text>
<text y="1519.3" font-size="85.5" ><tspan x="300.3" y="1519.3" textLength="37.9" lengthAdjust="spacingAndGlyphs">e</tspan><tspan x="341.8" y="1519.3" textLength="36.9" lengthAdjust="spacingAndGlyphs">n</tspan><tspan x="382.6" y="1519.3" textLength="36.4" lengthAdjust="spacingAndGlyphs">d</tspan><tspan x="423.4" y="1519.3" textLength="38.8" lengthAdjust="spacingAndGlyphs">o</tspan><tspan x="471.9" y="1519.3" textLength="23.8" lengthAdjust="spacingAndGlyphs">t</tspan><tspan x="508.5" y="1519.3" textLength="33.2" lengthAdjust="spacingAndGlyphs">h</tspan><tspan x="546.9" y="1519.3" textLength="37.9" lengthAdjust="spacingAndGlyphs">e</tspan><tspan x="592.5" y="1519.3" textLength="28.5" lengthAdjust="spacingAndGlyphs">r</tspan><tspan x="627.7" y="1519.3" textLength="41.0" lengthAdjust="spacingAndGlyphs">m</tspan><tspan x="677.4" y="1519.3" textLength="23.8" lengthAdjust="spacingAndGlyphs">i</tspan><tspan x="712.0" y="1519.3" textLength="36.5" lengthAdjust="spacingAndGlyphs">c</tspan></text>
<text y="1425.9" font-size="85.5" ><tspan x="1111.5" y="1425.9" textLength="37.9" lengthAdjust="spacingAndGlyphs">R</tspan><tspan x="1154.1" y="1425.9" textLength="34.6" lengthAdjust="spacingAndGlyphs">a</tspan><tspan x="1195.8" y="1425.9" textLength="37.0" lengthAdjust="spacingAndGlyphs">p</tspan><tspan x="1242.5" y="1425.9" textLength="23.8" lengthAdjust="spacingAndGlyphs">i</tspan><tspan x="1277.4" y="1425.9" textLength="34.6" lengthAdjust="spacingAndGlyphs">a</tspan></text>
<text y="1515.0" font-size="85.5" ><tspan x="1112.1" y="1515.0" textLength="37.9" lengthAdjust="spacingAndGlyphs">e</tspan><tspan x="1154.9" y="1515.0" textLength="35.2" lengthAdjust="spacingAndGlyphs">x</tspan><tspan x="1194.1" y="1515.0" textLength="38.8" lengthAdjust="spacingAndGlyphs">o</tspan><tspan x="1242.6" y="1515.0" textLength="23.8" lengthAdjust="spacingAndGlyphs">t</tspan><tspan x="1279.2" y="1515.0" textLength="33.2" lengthAdjust="spacingAndGlyphs">h</tspan><tspan x="1317.6" y="1515.0" textLength="37.9" lengthAdjust="spacingAndGlyphs">e</tspan><tspan x="1363.2" y="1515.0" textLength="28.5" lengthAdjust="spacingAndGlyphs">r</tspan><tspan x="1398.4" y="1515.0" textLength="41.0" lengthAdjust="spacingAndGlyphs">m</tspan><tspan x="1448.1" y="1515.0" textLength="23.8" lengthAdjust="spacingAndGlyphs">i</tspan><tspan x="1482.7" y="1515.0" textLength="36.5" lengthAdjust="spacingAndGlyphs">c</tspan></text>
<text y="1655.0" font-size="76.3" ><tspan x="146.0" y="1655.0" textLength="29.8" lengthAdjust="spacingAndGlyphs">1</tspan><tspan x="182.0" y="1655.0" textLength="36.1" lengthAdjust="spacingAndGlyphs">0</tspan></text>
<text y="1479.7" font-size="76.3" ><tspan x="146.0" y="1479.7" textLength="29.8" lengthAdjust="spacingAndGlyphs">1</tspan><tspan x="182.0" y="1479.7" textLength="34.6" lengthAdjust="spacingAndGlyphs">5</tspan></text>
<text y="1304.3" font-size="76.3" ><tspan x="144.1" y="1304.3" textLength="36.2" lengthAdjust="spacingAndGlyphs">2</tspan><tspan x="182.0" y="1304.3" textLength="36.1" lengthAdjust="spacingAndGlyphs">0</tspan></text>
<text y="1129.0" font-size="76.3" ><tspan x="144.1" y="1129.0" textLength="36.2" lengthAdjust="spacingAndGlyphs">2</tspan><tspan x="182.0" y="1129.0" textLength="34.6" lengthAdjust="spacingAndGlyphs">5</tspan></text>
<text y="953.7" font-size="76.3" ><tspan x="143.9" y="953.7" textLength="35.1" lengthAdjust="spacingAndGlyphs">3</tspan><tspan x="182.0" y="953.7" textLength="36.1" lengthAdjust="spacingAndGlyphs">0</tspan></text>
<text y="778.3" font-size="76.3" ><tspan x="143.9" y="778.3" textLength="35.1" lengthAdjust="spacingAndGlyphs">3</tspan><tspan x="182.0" y="778.3" textLength="34.6" lengthAdjust="spacingAndGlyphs">5</tspan></text>
<text y="603.0" font-size="76.3" ><tspan x="145.2" y="603.0" textLength="32.9" lengthAdjust="spacingAndGlyphs">4</tspan><tspan x="182.0" y="603.0" textLength="36.1" lengthAdjust="spacingAndGlyphs">0</tspan></text>
<text y="427.7" font-size="76.3" ><tspan x="145.2" y="427.7" textLength="32.9" lengthAdjust="spacingAndGlyphs">4</tspan><tspan x="182.0" y="427.7" textLength="34.6" lengthAdjust="spacingAndGlyphs">5</tspan></text>
<text y="252.3" font-size="76.3" ><tspan x="143.8" y="252.3" textLength="34.6" lengthAdjust="spacingAndGlyphs">5</tspan><tspan x="182.0" y="252.3" textLength="36.1" lengthAdjust="spacingAndGlyphs">0</tspan></text>
<text y="77.0" font-size="76.3" ><tspan x="143.8" y="77.0" textLength="34.6" lengthAdjust="spacingAndGlyphs">5</tspan><tspan x="182.0" y="77.0" textLength="34.6" lengthAdjust="spacingAndGlyphs">5</tspan></text>
<text y="1742.0" font-size="76.3" ><tspan x="254.5" y="1742.0" textLength="36.1" lengthAdjust="spacingAndGlyphs">0</tspan></text>
<text y="1742.0" font-size="76.3" ><tspan x="480.6" y="1742.0" textLength="36.2" lengthAdjust="spacingAndGlyphs">2</tspan><tspan x="518.5" y="1742.0" textLength="36.1" lengthAdjust="spacingAndGlyphs">0</tspan></text>
<text y="1742.0" font-size="76.3" ><tspan x="726.7" y="1742.0" textLength="32.9" lengthAdjust="spacingAndGlyphs">4</tspan><tspan x="763.4" y="1742.0" textLength="36.1" lengthAdjust="spacingAndGlyphs">0</tspan></text>
<text y="1742.0" font-size="76.3" ><tspan x="970.3" y="1742.0" textLength="34.9" lengthAdjust="spacingAndGlyphs">6</tspan><tspan x="1008.4" y="1742.0" textLength="36.1" lengthAdjust="spacingAndGlyphs">0</tspan></text>
<text y="1742.0" font-size="76.3" ><tspan x="1215.6" y="1742.0" textLength="35.2" lengthAdjust="spacingAndGlyphs">8</tspan><tspan x="1253.3" y="1742.0" textLength="36.1" lengthAdjust="spacingAndGlyphs">0</tspan></text>
<text y="1742.0" font-size="76.3" ><tspan x="1443.2" y="1742.0" textLength="29.8" lengthAdjust="spacingAndGlyphs">1</tspan><tspan x="1479.2" y="1742.0" textLength="36.1" lengthAdjust="spacingAndGlyphs">0</tspan><tspan x="1517.4" y="1742.0" textLength="36.1" lengthAdjust="spacingAndGlyphs">0</tspan></text>
<text y="1742.0" font-size="76.3" ><tspan x="1688.2" y="1742.0" textLength="29.8" lengthAdjust="spacingAndGlyphs">1</tspan><tspan x="1724.4" y="1742.0" textLength="36.2" lengthAdjust="spacingAndGlyphs">2</tspan><tspan x="1762.3" y="1742.0" textLength="36.1" lengthAdjust="spacingAndGlyphs">0</tspan></text>
<text y="1742.0" font-size="76.3" ><tspan x="1933.1" y="1742.0" textLength="29.8" lengthAdjust="spacingAndGlyphs">1</tspan><tspan x="1970.5" y="1742.0" textLength="32.9" lengthAdjust="spacingAndGlyphs">4</tspan><tspan x="2007.2" y="1742.0" textLength="36.1" lengthAdjust="spacingAndGlyphs">0</tspan></text>
<text y="1742.0" font-size="76.3" ><tspan x="2178.0" y="1742.0" textLength="29.8" lengthAdjust="spacingAndGlyphs">1</tspan><tspan x="2214.1" y="1742.0" textLength="34.9" lengthAdjust="spacingAndGlyphs">6</tspan><tspan x="2252.2" y="1742.0" textLength="36.1" lengthAdjust="spacingAndGlyphs">0</tspan></text>
<text y="1859.0" font-size="95.8" ><tspan x="1057.0" y="1859.0" textLength="42.4" lengthAdjust="spacingAndGlyphs">T</tspan><tspan x="1111.3" y="1859.0" textLength="26.6" lengthAdjust="spacingAndGlyphs">i</tspan><tspan x="1147.9" y="1859.0" textLength="46.4" lengthAdjust="spacingAndGlyphs">m</tspan><tspan x="1196.3" y="1859.0" textLength="42.5" lengthAdjust="spacingAndGlyphs">e</tspan><tspan x="1257.8" y="1847.8" font-size="87.7" textLength="27.7" lengthAdjust="spacingAndGlyphs">(</tspan><tspan x="1291.9" y="1859.0" textLength="37.3" lengthAdjust="spacingAndGlyphs">s</tspan><tspan x="1336.9" y="1847.8" font-size="87.7" textLength="27.7" lengthAdjust="spacingAndGlyphs">)</tspan></text>
<g transform="translate(111.7,0) rotate(-90)">
<text y="0" font-size="95.8"><tspan x="-1150.5" y="0.0" textLength="42.4" lengthAdjust="spacingAndGlyphs">T</tspan><tspan x="-1104.2" y="0.0" textLength="42.5" lengthAdjust="spacingAndGlyphs">e</tspan><tspan x="-1059.6" y="0.0" textLength="46.4" lengthAdjust="spacingAndGlyphs">m</tspan><tspan x="-1009.7" y="0.0" textLength="41.8" lengthAdjust="spacingAndGlyphs">p</tspan><tspan x="-964.7" y="0.0" textLength="42.5" lengthAdjust="spacingAndGlyphs">e</tspan><tspan x="-913.2" y="0.0" textLength="31.9" lengthAdjust="spacingAndGlyphs">r</tspan><tspan x="-870.8" y="0.0" textLength="39.2" lengthAdjust="spacingAndGlyphs">a</tspan><tspan x="-817.2" y="0.0" textLength="26.6" lengthAdjust="spacingAndGlyphs">t</tspan><tspan x="-775.4" y="0.0" textLength="36.6" lengthAdjust="spacingAndGlyphs">u</tspan><tspan x="-727.2" y="0.0" textLength="31.9" lengthAdjust="spacingAndGlyphs">r</tspan><tspan x="-685.7" y="0.0" textLength="42.5" lengthAdjust="spacingAndGlyphs">e</tspan><tspan x="-624.2" y="-11.2" font-size="87.7" textLength="27.7" lengthAdjust="spacingAndGlyphs">(</tspan><tspan x="-588.4" y="0" font-family="'Noto Serif CJK SC', serif" font-size="87.0" textLength="83.0" lengthAdjust="spacingAndGlyphs">℃</tspan><tspan x="-499.1" y="-11.2" font-size="87.7" textLength="27.7" lengthAdjust="spacingAndGlyphs">)</tspan></text>
</g>
</g>
</svg>
</body></html>
